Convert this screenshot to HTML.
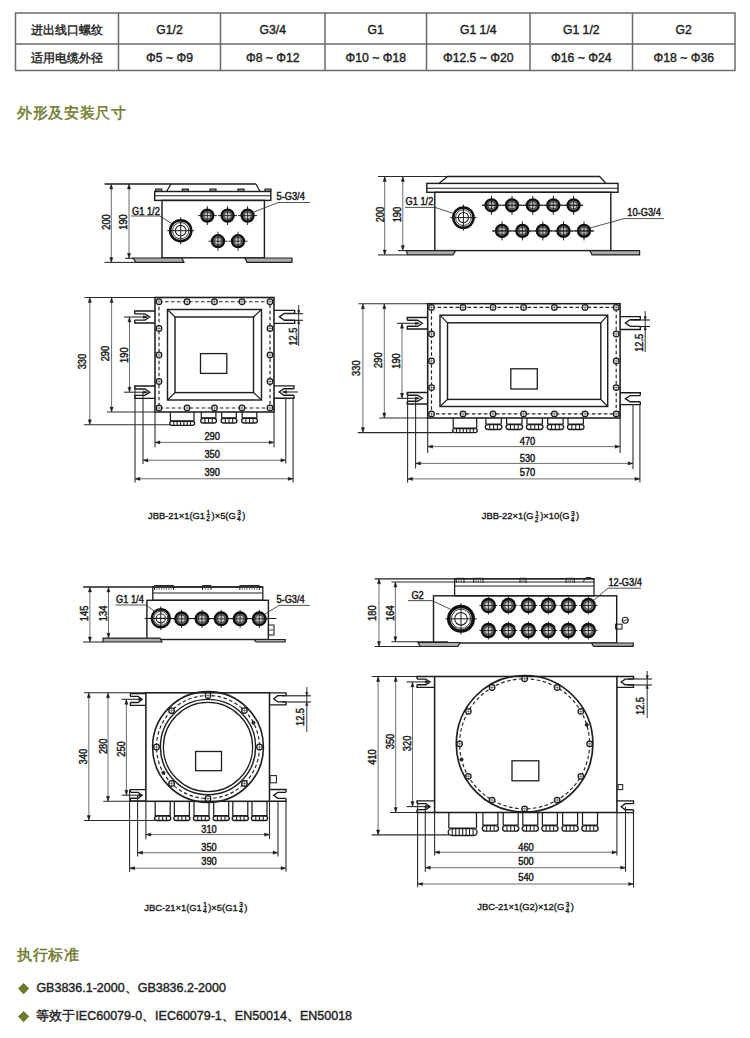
<!DOCTYPE html>
<html><head><meta charset="utf-8"><style>
html,body{margin:0;padding:0;background:#fff;width:750px;height:1038px;overflow:hidden;font-family:"Liberation Sans",sans-serif;}
svg{display:block;}
</style></head><body>
<svg width="750" height="1038" viewBox="0 0 750 1038" stroke-linecap="butt">
<rect x="15.5" y="13" width="719.5" height="57.5" fill="none" stroke="#6a6a6a" stroke-width="1.5"/>
<line x1="15.5" y1="44" x2="735" y2="44" stroke="#6a6a6a" stroke-width="1.5"/>
<line x1="118.5" y1="13" x2="118.5" y2="70.5" stroke="#6a6a6a" stroke-width="1.5"/>
<line x1="220.5" y1="13" x2="220.5" y2="70.5" stroke="#6a6a6a" stroke-width="1.5"/>
<line x1="325" y1="13" x2="325" y2="70.5" stroke="#6a6a6a" stroke-width="1.5"/>
<line x1="426.5" y1="13" x2="426.5" y2="70.5" stroke="#6a6a6a" stroke-width="1.5"/>
<line x1="530" y1="13" x2="530" y2="70.5" stroke="#6a6a6a" stroke-width="1.5"/>
<line x1="632.5" y1="13" x2="632.5" y2="70.5" stroke="#6a6a6a" stroke-width="1.5"/>
<text x="67" y="33.6" font-size="12.4" text-anchor="middle" fill="#222" stroke="#222" stroke-width="0.4" font-family="Liberation Sans">进出线口螺纹</text>
<text x="67" y="61.6" font-size="12.4" text-anchor="middle" fill="#222" stroke="#222" stroke-width="0.4" font-family="Liberation Sans">适用电缆外径</text>
<text x="169.5" y="33.6" font-size="12.2" text-anchor="middle" fill="#222" stroke="#222" stroke-width="0.4" font-family="Liberation Sans">G1/2</text>
<text x="169.5" y="61.6" font-size="12.2" text-anchor="middle" fill="#222" stroke="#222" stroke-width="0.4" font-family="Liberation Sans">Φ5 ~ Φ9</text>
<text x="272.75" y="33.6" font-size="12.2" text-anchor="middle" fill="#222" stroke="#222" stroke-width="0.4" font-family="Liberation Sans">G3/4</text>
<text x="272.75" y="61.6" font-size="12.2" text-anchor="middle" fill="#222" stroke="#222" stroke-width="0.4" font-family="Liberation Sans">Φ8 ~ Φ12</text>
<text x="375.75" y="33.6" font-size="12.2" text-anchor="middle" fill="#222" stroke="#222" stroke-width="0.4" font-family="Liberation Sans">G1</text>
<text x="375.75" y="61.6" font-size="12.2" text-anchor="middle" fill="#222" stroke="#222" stroke-width="0.4" font-family="Liberation Sans">Φ10 ~ Φ18</text>
<text x="478.25" y="33.6" font-size="12.2" text-anchor="middle" fill="#222" stroke="#222" stroke-width="0.4" font-family="Liberation Sans">G1 1/4</text>
<text x="478.25" y="61.6" font-size="12.2" text-anchor="middle" fill="#222" stroke="#222" stroke-width="0.4" font-family="Liberation Sans">Φ12.5 ~ Φ20</text>
<text x="581.25" y="33.6" font-size="12.2" text-anchor="middle" fill="#222" stroke="#222" stroke-width="0.4" font-family="Liberation Sans">G1 1/2</text>
<text x="581.25" y="61.6" font-size="12.2" text-anchor="middle" fill="#222" stroke="#222" stroke-width="0.4" font-family="Liberation Sans">Φ16 ~ Φ24</text>
<text x="683.75" y="33.6" font-size="12.2" text-anchor="middle" fill="#222" stroke="#222" stroke-width="0.4" font-family="Liberation Sans">G2</text>
<text x="683.75" y="61.6" font-size="12.2" text-anchor="middle" fill="#222" stroke="#222" stroke-width="0.4" font-family="Liberation Sans">Φ18 ~ Φ36</text>

<text x="17" y="118.3" font-size="15" letter-spacing="0.65" fill="#6f7a2c" stroke="#6f7a2c" stroke-width="0.45" font-family="Liberation Sans">外形及安装尺寸</text>
<text x="17" y="960.2" font-size="15" letter-spacing="0.65" fill="#6f7a2c" stroke="#6f7a2c" stroke-width="0.45" font-family="Liberation Sans">执行标准</text>
<path d="M23.6,983 L29.2,988.6 L23.6,994.2 L18,988.6 Z" fill="#6f7a2c"/>
<path d="M23.6,1011 L29.2,1016.6 L23.6,1022.2 L18,1016.6 Z" fill="#6f7a2c"/>
<text x="36.4" y="992" font-size="12.5" fill="#222" stroke="#222" stroke-width="0.4" font-family="Liberation Sans">GB3836.1-2000、GB3836.2-2000</text>
<text x="36.4" y="1020" font-size="12.5" fill="#222" stroke="#222" stroke-width="0.4" font-family="Liberation Sans">等效于IEC60079-0、IEC60079-1、EN50014、EN50018</text>

<line x1="104.5" y1="184" x2="256" y2="184" stroke="#1e1e1e" stroke-width="1.3"/>
<path d="M256,184 L260,191.5" stroke="#1e1e1e" stroke-width="1.3" fill="none"/>
<path d="M171,184 L166.5,191.5" stroke="#1e1e1e" stroke-width="1.3" fill="none"/>
<path d="M155.7,191.5 V189 H161.7 V191.5" stroke="#1e1e1e" stroke-width="1.17" fill="#888"/>
<path d="M182.3,191.5 V189 H188.3 V191.5" stroke="#1e1e1e" stroke-width="1.17" fill="#888"/>
<path d="M210,191.5 V189 H216 V191.5" stroke="#1e1e1e" stroke-width="1.17" fill="#888"/>
<path d="M238,191.5 V189 H244 V191.5" stroke="#1e1e1e" stroke-width="1.17" fill="#888"/>
<path d="M265,191.5 V189 H271 V191.5" stroke="#1e1e1e" stroke-width="1.17" fill="#888"/>
<rect x="154.7" y="191.5" width="116.1" height="8.9" stroke="#1e1e1e" stroke-width="1.43" fill="none"/>
<line x1="154.7" y1="195.8" x2="270.8" y2="195.8" stroke="#1e1e1e" stroke-width="1.04"/>
<rect x="162" y="200.4" width="102.4" height="57.4" stroke="#1e1e1e" stroke-width="1.43" fill="none"/>
<path d="M133,258 L182,258 L184,262.4 L136,262.4 Z" stroke="#1e1e1e" stroke-width="1.17" fill="#acacac"/>
<path d="M245,258 L292,258 L292,262.4 L247,262.4 Z" stroke="#1e1e1e" stroke-width="1.17" fill="#acacac"/>
<line x1="104.5" y1="262.4" x2="136" y2="262.4" stroke="#2a2a2a" stroke-width="1.08"/>
<line x1="125" y1="258.3" x2="133" y2="258.3" stroke="#2a2a2a" stroke-width="1.08"/>
<line x1="111.3" y1="184" x2="111.3" y2="262.4" stroke="#555" stroke-width="0.85"/>
<path d="M111.3,184 L109.7,189 L112.9,189 Z" stroke="#1e1e1e" stroke-width="0.39" fill="#1e1e1e"/>
<path d="M111.3,262.4 L109.7,257.4 L112.9,257.4 Z" stroke="#1e1e1e" stroke-width="0.39" fill="#1e1e1e"/>
<line x1="129" y1="184" x2="129" y2="258.3" stroke="#555" stroke-width="0.85"/>
<path d="M129,184 L127.4,189 L130.6,189 Z" stroke="#1e1e1e" stroke-width="0.39" fill="#1e1e1e"/>
<path d="M129,258.3 L127.4,253.3 L130.6,253.3 Z" stroke="#1e1e1e" stroke-width="0.39" fill="#1e1e1e"/>
<text x="0" y="0" transform="translate(106.5,222) rotate(-90) scale(0.92,1)" font-size="10.1" text-anchor="middle" dominant-baseline="central" fill="#1a1a1a" stroke="#1a1a1a" stroke-width="0.45" font-family="Liberation Sans" font-weight="normal">200</text>
<text x="0" y="0" transform="translate(123.5,222) rotate(-90) scale(0.92,1)" font-size="10.1" text-anchor="middle" dominant-baseline="central" fill="#1a1a1a" stroke="#1a1a1a" stroke-width="0.45" font-family="Liberation Sans" font-weight="normal">190</text>
<path d="M167.3,230.7 H194.1 M180.7,217.3 V244.1" stroke="#1a1a1a" stroke-width="1.0"/>
<circle cx="180.7" cy="230.7" r="10.55" stroke="#111" stroke-width="2.5" fill="none"/>
<circle cx="180.7" cy="230.7" r="8.14" stroke="#222" stroke-width="0.9" fill="none"/>
<circle cx="180.7" cy="230.7" r="5.31" stroke="#222" stroke-width="1.1" fill="none"/>
<text x="0" y="0" transform="translate(132,214.6) scale(0.92,1)" font-size="10.1" text-anchor="start" fill="#1a1a1a" stroke="#1a1a1a" stroke-width="0.45" font-family="Liberation Sans" font-weight="normal">G1 1/2</text>
<path d="M131,216 L160,216 L174,225" stroke="#2a2a2a" stroke-width="0.81" fill="none"/>
<path d="M197.8,215.6 H216.8 M207.3,206.1 V225.1" stroke="#1a1a1a" stroke-width="0.95"/>
<circle cx="207.3" cy="215.6" r="6" stroke="#0e0e0e" stroke-width="2.3" fill="#6e6e6e"/>
<circle cx="207.3" cy="215.6" r="3.64" stroke="#333" stroke-width="0.8" fill="#c8c8c8"/>
<path d="M202.26,215.6 H212.34 M207.3,210.56 V220.64" stroke="#222" stroke-width="0.9"/>
<path d="M218.1,215.6 H237.1 M227.6,206.1 V225.1" stroke="#1a1a1a" stroke-width="0.95"/>
<circle cx="227.6" cy="215.6" r="6" stroke="#0e0e0e" stroke-width="2.3" fill="#6e6e6e"/>
<circle cx="227.6" cy="215.6" r="3.64" stroke="#333" stroke-width="0.8" fill="#c8c8c8"/>
<path d="M222.56,215.6 H232.64 M227.6,210.56 V220.64" stroke="#222" stroke-width="0.9"/>
<path d="M238.1,215.6 H257.1 M247.6,206.1 V225.1" stroke="#1a1a1a" stroke-width="0.95"/>
<circle cx="247.6" cy="215.6" r="6" stroke="#0e0e0e" stroke-width="2.3" fill="#6e6e6e"/>
<circle cx="247.6" cy="215.6" r="3.64" stroke="#333" stroke-width="0.8" fill="#c8c8c8"/>
<path d="M242.56,215.6 H252.64 M247.6,210.56 V220.64" stroke="#222" stroke-width="0.9"/>
<path d="M208.5,241.2 H227.5 M218,231.7 V250.7" stroke="#1a1a1a" stroke-width="0.95"/>
<circle cx="218" cy="241.2" r="6" stroke="#0e0e0e" stroke-width="2.3" fill="#6e6e6e"/>
<circle cx="218" cy="241.2" r="3.64" stroke="#333" stroke-width="0.8" fill="#c8c8c8"/>
<path d="M212.96,241.2 H223.04 M218,236.16 V246.24" stroke="#222" stroke-width="0.9"/>
<path d="M228.5,241.2 H247.5 M238,231.7 V250.7" stroke="#1a1a1a" stroke-width="0.95"/>
<circle cx="238" cy="241.2" r="6" stroke="#0e0e0e" stroke-width="2.3" fill="#6e6e6e"/>
<circle cx="238" cy="241.2" r="3.64" stroke="#333" stroke-width="0.8" fill="#c8c8c8"/>
<path d="M232.96,241.2 H243.04 M238,236.16 V246.24" stroke="#222" stroke-width="0.9"/>
<text x="0" y="0" transform="translate(276.5,200.4) scale(0.92,1)" font-size="10.1" text-anchor="start" fill="#1a1a1a" stroke="#1a1a1a" stroke-width="0.45" font-family="Liberation Sans" font-weight="normal">5-G3/4</text>
<path d="M254,212 L278,202.5 L310,202.5" stroke="#2a2a2a" stroke-width="0.81" fill="none"/>
<line x1="84.4" y1="297.5" x2="155" y2="297.5" stroke="#2a2a2a" stroke-width="1.08"/>
<line x1="107" y1="412" x2="155" y2="412" stroke="#2a2a2a" stroke-width="1.08"/>
<line x1="84" y1="424.7" x2="171" y2="424.7" stroke="#2a2a2a" stroke-width="1.08"/>
<rect x="155" y="297.5" width="119" height="114.5" stroke="#1e1e1e" stroke-width="1.56" fill="none"/>
<rect x="159" y="301.7" width="111" height="106.3" fill="none" stroke="#222" stroke-width="1.15" stroke-dasharray="3.6,2.4"/>
<rect x="167.5" y="309.5" width="94" height="90.5" stroke="#1e1e1e" stroke-width="1.43" fill="none"/>
<rect x="175" y="317" width="78.5" height="75.6" stroke="#1e1e1e" stroke-width="1.43" fill="none"/>
<line x1="167.5" y1="309.5" x2="175" y2="317" stroke="#1e1e1e" stroke-width="1.17"/>
<line x1="261.5" y1="309.5" x2="253.5" y2="317" stroke="#1e1e1e" stroke-width="1.17"/>
<line x1="167.5" y1="400" x2="175" y2="392.6" stroke="#1e1e1e" stroke-width="1.17"/>
<line x1="261.5" y1="400" x2="253.5" y2="392.6" stroke="#1e1e1e" stroke-width="1.17"/>
<rect x="200.5" y="353.6" width="26.3" height="19.8" stroke="#1e1e1e" stroke-width="1.3" fill="none"/>
<circle cx="159" cy="301.7" r="2.8" stroke="#1a1a1a" stroke-width="1.25" fill="#fff"/>
<path d="M156.2,301.7 H161.8 M159,298.9 V304.5" stroke="#333" stroke-width="0.55"/>
<circle cx="159" cy="408" r="2.8" stroke="#1a1a1a" stroke-width="1.25" fill="#fff"/>
<path d="M156.2,408 H161.8 M159,405.2 V410.8" stroke="#333" stroke-width="0.55"/>
<circle cx="187" cy="301.7" r="2.8" stroke="#1a1a1a" stroke-width="1.25" fill="#fff"/>
<path d="M184.2,301.7 H189.8 M187,298.9 V304.5" stroke="#333" stroke-width="0.55"/>
<circle cx="187" cy="408" r="2.8" stroke="#1a1a1a" stroke-width="1.25" fill="#fff"/>
<path d="M184.2,408 H189.8 M187,405.2 V410.8" stroke="#333" stroke-width="0.55"/>
<circle cx="214.5" cy="301.7" r="2.8" stroke="#1a1a1a" stroke-width="1.25" fill="#fff"/>
<path d="M211.7,301.7 H217.3 M214.5,298.9 V304.5" stroke="#333" stroke-width="0.55"/>
<circle cx="214.5" cy="408" r="2.8" stroke="#1a1a1a" stroke-width="1.25" fill="#fff"/>
<path d="M211.7,408 H217.3 M214.5,405.2 V410.8" stroke="#333" stroke-width="0.55"/>
<circle cx="242" cy="301.7" r="2.8" stroke="#1a1a1a" stroke-width="1.25" fill="#fff"/>
<path d="M239.2,301.7 H244.8 M242,298.9 V304.5" stroke="#333" stroke-width="0.55"/>
<circle cx="242" cy="408" r="2.8" stroke="#1a1a1a" stroke-width="1.25" fill="#fff"/>
<path d="M239.2,408 H244.8 M242,405.2 V410.8" stroke="#333" stroke-width="0.55"/>
<circle cx="270" cy="301.7" r="2.8" stroke="#1a1a1a" stroke-width="1.25" fill="#fff"/>
<path d="M267.2,301.7 H272.8 M270,298.9 V304.5" stroke="#333" stroke-width="0.55"/>
<circle cx="270" cy="408" r="2.8" stroke="#1a1a1a" stroke-width="1.25" fill="#fff"/>
<path d="M267.2,408 H272.8 M270,405.2 V410.8" stroke="#333" stroke-width="0.55"/>
<circle cx="159" cy="328.5" r="2.8" stroke="#1a1a1a" stroke-width="1.25" fill="#fff"/>
<path d="M156.2,328.5 H161.8 M159,325.7 V331.3" stroke="#333" stroke-width="0.55"/>
<circle cx="270" cy="328.5" r="2.8" stroke="#1a1a1a" stroke-width="1.25" fill="#fff"/>
<path d="M267.2,328.5 H272.8 M270,325.7 V331.3" stroke="#333" stroke-width="0.55"/>
<circle cx="159" cy="355" r="2.8" stroke="#1a1a1a" stroke-width="1.25" fill="#fff"/>
<path d="M156.2,355 H161.8 M159,352.2 V357.8" stroke="#333" stroke-width="0.55"/>
<circle cx="270" cy="355" r="2.8" stroke="#1a1a1a" stroke-width="1.25" fill="#fff"/>
<path d="M267.2,355 H272.8 M270,352.2 V357.8" stroke="#333" stroke-width="0.55"/>
<circle cx="159" cy="381.5" r="2.8" stroke="#1a1a1a" stroke-width="1.25" fill="#fff"/>
<path d="M156.2,381.5 H161.8 M159,378.7 V384.3" stroke="#333" stroke-width="0.55"/>
<circle cx="270" cy="381.5" r="2.8" stroke="#1a1a1a" stroke-width="1.25" fill="#fff"/>
<path d="M267.2,381.5 H272.8 M270,378.7 V384.3" stroke="#333" stroke-width="0.55"/>
<path d="M155,311 H134.7 V313.88 M155,323 H134.7 V320.12" stroke="#1a1a1a" stroke-width="1.35" fill="none"/>
<path d="M134.7,313.88 H144.85 L149.72,317 L144.85,320.12 H134.7" stroke="#1a1a1a" stroke-width="1.35" fill="none"/>
<path d="M155,386 H134.7 V388.95 M155,398.3 H134.7 V395.35" stroke="#1a1a1a" stroke-width="1.35" fill="none"/>
<path d="M134.7,388.95 H144.85 L149.72,392.15 L144.85,395.35 H134.7" stroke="#1a1a1a" stroke-width="1.35" fill="none"/>
<path d="M274,310.3 H294.7 V313.44 M274,323.4 H294.7 V320.26" stroke="#1a1a1a" stroke-width="1.35" fill="none"/>
<path d="M294.7,313.44 H284.35 L279.38,316.85 L284.35,320.26 H294.7" stroke="#1a1a1a" stroke-width="1.35" fill="none"/>
<path d="M274,385.8 H294 V388.78 M274,398.2 H294 V395.22" stroke="#1a1a1a" stroke-width="1.35" fill="none"/>
<path d="M294,388.78 H284 L279.2,392 L284,395.22 H294" stroke="#1a1a1a" stroke-width="1.35" fill="none"/>
<line x1="124" y1="317" x2="147" y2="317" stroke="#2a2a2a" stroke-width="1.08"/>
<path d="M147.5,317 L143.3,315.6 L143.3,318.4 Z" stroke="#1e1e1e" stroke-width="0.39" fill="#1e1e1e"/>
<line x1="124" y1="392.2" x2="147" y2="392.2" stroke="#2a2a2a" stroke-width="1.08"/>
<path d="M147.5,392.2 L143.3,390.8 L143.3,393.6 Z" stroke="#1e1e1e" stroke-width="0.39" fill="#1e1e1e"/>
<line x1="283" y1="392" x2="298" y2="392" stroke="#2a2a2a" stroke-width="1.08"/>
<path d="M282.5,392 L286.7,390.6 L286.7,393.4 Z" stroke="#1e1e1e" stroke-width="0.39" fill="#1e1e1e"/>
<line x1="89.8" y1="297.5" x2="89.8" y2="424.7" stroke="#555" stroke-width="0.85"/>
<path d="M89.8,297.5 L88.2,302.5 L91.4,302.5 Z" stroke="#1e1e1e" stroke-width="0.39" fill="#1e1e1e"/>
<path d="M89.8,424.7 L88.2,419.7 L91.4,419.7 Z" stroke="#1e1e1e" stroke-width="0.39" fill="#1e1e1e"/>
<line x1="111.6" y1="297.5" x2="111.6" y2="412" stroke="#555" stroke-width="0.85"/>
<path d="M111.6,297.5 L110,302.5 L113.2,302.5 Z" stroke="#1e1e1e" stroke-width="0.39" fill="#1e1e1e"/>
<path d="M111.6,412 L110,407 L113.2,407 Z" stroke="#1e1e1e" stroke-width="0.39" fill="#1e1e1e"/>
<line x1="129.5" y1="317" x2="129.5" y2="392.2" stroke="#555" stroke-width="0.85"/>
<path d="M129.5,317 L127.9,322 L131.1,322 Z" stroke="#1e1e1e" stroke-width="0.39" fill="#1e1e1e"/>
<path d="M129.5,392.2 L127.9,387.2 L131.1,387.2 Z" stroke="#1e1e1e" stroke-width="0.39" fill="#1e1e1e"/>
<text x="0" y="0" transform="translate(82.8,361.6) rotate(-90) scale(0.92,1)" font-size="10.1" text-anchor="middle" dominant-baseline="central" fill="#1a1a1a" stroke="#1a1a1a" stroke-width="0.45" font-family="Liberation Sans" font-weight="normal">330</text>
<text x="0" y="0" transform="translate(105.8,353.6) rotate(-90) scale(0.92,1)" font-size="10.1" text-anchor="middle" dominant-baseline="central" fill="#1a1a1a" stroke="#1a1a1a" stroke-width="0.45" font-family="Liberation Sans" font-weight="normal">290</text>
<text x="0" y="0" transform="translate(124.4,355.2) rotate(-90) scale(0.92,1)" font-size="10.1" text-anchor="middle" dominant-baseline="central" fill="#1a1a1a" stroke="#1a1a1a" stroke-width="0.45" font-family="Liberation Sans" font-weight="normal">190</text>
<line x1="285" y1="313.7" x2="303" y2="313.7" stroke="#1e1e1e" stroke-width="1.1"/>
<line x1="285" y1="320.3" x2="303" y2="320.3" stroke="#1e1e1e" stroke-width="1.1"/>
<line x1="298.7" y1="305" x2="298.7" y2="346" stroke="#2a2a2a" stroke-width="0.94"/>
<path d="M298.7,313.7 L297.5,310.2 L299.9,310.2 Z" stroke="#1e1e1e" stroke-width="0.39" fill="#1e1e1e"/>
<path d="M298.7,320.3 L297.5,323.8 L299.9,323.8 Z" stroke="#1e1e1e" stroke-width="0.39" fill="#1e1e1e"/>
<text x="0" y="0" transform="translate(293.5,336.6) rotate(-90) scale(0.92,1)" font-size="10.1" text-anchor="middle" dominant-baseline="central" fill="#1a1a1a" stroke="#1a1a1a" stroke-width="0.45" font-family="Liberation Sans" font-weight="normal">12.5</text>
<path d="M170.4,412 V420.8 H194 V412" stroke="#1e1e1e" stroke-width="1.23" fill="none"/>
<rect x="169.8" y="421.4" width="24.8" height="3.9" rx="2.25" stroke="#1a1a1a" stroke-width="1.3" fill="#fff"/>
<line x1="173.77" y1="421.6" x2="173.77" y2="425.1" stroke="#222" stroke-width="1.1"/>
<line x1="177.14" y1="421.6" x2="177.14" y2="425.1" stroke="#222" stroke-width="1.1"/>
<line x1="180.51" y1="421.6" x2="180.51" y2="425.1" stroke="#222" stroke-width="1.1"/>
<line x1="183.89" y1="421.6" x2="183.89" y2="425.1" stroke="#222" stroke-width="1.1"/>
<line x1="187.26" y1="421.6" x2="187.26" y2="425.1" stroke="#222" stroke-width="1.1"/>
<line x1="190.63" y1="421.6" x2="190.63" y2="425.1" stroke="#222" stroke-width="1.1"/>
<path d="M201.3,412 V417.8 H215.9 V412" stroke="#1e1e1e" stroke-width="1.23" fill="none"/>
<rect x="200.7" y="418.4" width="15.8" height="4.6" rx="2.6" stroke="#1a1a1a" stroke-width="1.3" fill="#fff"/>
<line x1="204.95" y1="418.6" x2="204.95" y2="422.8" stroke="#222" stroke-width="1.1"/>
<line x1="208.6" y1="418.6" x2="208.6" y2="422.8" stroke="#222" stroke-width="1.1"/>
<line x1="212.25" y1="418.6" x2="212.25" y2="422.8" stroke="#222" stroke-width="1.1"/>
<path d="M221.7,412 V417.8 H236.3 V412" stroke="#1e1e1e" stroke-width="1.23" fill="none"/>
<rect x="221.1" y="418.4" width="15.8" height="4.6" rx="2.6" stroke="#1a1a1a" stroke-width="1.3" fill="#fff"/>
<line x1="225.35" y1="418.6" x2="225.35" y2="422.8" stroke="#222" stroke-width="1.1"/>
<line x1="229" y1="418.6" x2="229" y2="422.8" stroke="#222" stroke-width="1.1"/>
<line x1="232.65" y1="418.6" x2="232.65" y2="422.8" stroke="#222" stroke-width="1.1"/>
<path d="M242.2,412 V417.8 H256.8 V412" stroke="#1e1e1e" stroke-width="1.23" fill="none"/>
<rect x="241.6" y="418.4" width="15.8" height="4.6" rx="2.6" stroke="#1a1a1a" stroke-width="1.3" fill="#fff"/>
<line x1="245.85" y1="418.6" x2="245.85" y2="422.8" stroke="#222" stroke-width="1.1"/>
<line x1="249.5" y1="418.6" x2="249.5" y2="422.8" stroke="#222" stroke-width="1.1"/>
<line x1="253.15" y1="418.6" x2="253.15" y2="422.8" stroke="#222" stroke-width="1.1"/>
<line x1="155" y1="412" x2="155" y2="447.3" stroke="#2a2a2a" stroke-width="1.08"/>
<line x1="274" y1="398" x2="274" y2="447.3" stroke="#2a2a2a" stroke-width="1.08"/>
<line x1="143" y1="392" x2="143" y2="464" stroke="#2a2a2a" stroke-width="1.08"/>
<line x1="285.8" y1="398" x2="285.8" y2="463.5" stroke="#2a2a2a" stroke-width="1.08"/>
<line x1="135" y1="386" x2="135" y2="482.5" stroke="#2a2a2a" stroke-width="1.08"/>
<line x1="293.1" y1="398" x2="293.1" y2="482.5" stroke="#2a2a2a" stroke-width="1.08"/>
<line x1="155" y1="442.4" x2="274" y2="442.4" stroke="#555" stroke-width="0.85"/>
<path d="M155,442.4 L160,440.8 L160,444 Z" stroke="#1e1e1e" stroke-width="0.39" fill="#1e1e1e"/>
<path d="M274,442.4 L269,440.8 L269,444 Z" stroke="#1e1e1e" stroke-width="0.39" fill="#1e1e1e"/>
<line x1="143" y1="460.3" x2="285.8" y2="460.3" stroke="#555" stroke-width="0.85"/>
<path d="M143,460.3 L148,458.7 L148,461.9 Z" stroke="#1e1e1e" stroke-width="0.39" fill="#1e1e1e"/>
<path d="M285.8,460.3 L280.8,458.7 L280.8,461.9 Z" stroke="#1e1e1e" stroke-width="0.39" fill="#1e1e1e"/>
<line x1="135" y1="478.8" x2="293.1" y2="478.8" stroke="#555" stroke-width="0.85"/>
<path d="M135,478.8 L140,477.2 L140,480.4 Z" stroke="#1e1e1e" stroke-width="0.39" fill="#1e1e1e"/>
<path d="M293.1,478.8 L288.1,477.2 L288.1,480.4 Z" stroke="#1e1e1e" stroke-width="0.39" fill="#1e1e1e"/>
<text x="0" y="0" transform="translate(212.2,439.7) scale(0.92,1)" font-size="10.1" text-anchor="middle" fill="#1a1a1a" stroke="#1a1a1a" stroke-width="0.45" font-family="Liberation Sans" font-weight="normal">290</text>
<text x="0" y="0" transform="translate(212.2,458) scale(0.92,1)" font-size="10.1" text-anchor="middle" fill="#1a1a1a" stroke="#1a1a1a" stroke-width="0.45" font-family="Liberation Sans" font-weight="normal">350</text>
<text x="0" y="0" transform="translate(212.2,476.3) scale(0.92,1)" font-size="10.1" text-anchor="middle" fill="#1a1a1a" stroke="#1a1a1a" stroke-width="0.45" font-family="Liberation Sans" font-weight="normal">390</text>
<text x="148" y="518.6" font-size="9.4" fill="#1a1a1a" stroke="#1a1a1a" stroke-width="0.35" font-family="Liberation Sans"><tspan>JBB-21×1(G1</tspan><tspan font-size="6.6" dy="-3.4" dx="1.5">1</tspan><tspan font-size="6.6" dx="-3.97" dy="6.0">2</tspan><tspan dy="-2.6" dx="1.6">)×5(G</tspan><tspan font-size="6.6" dy="-3.4" dx="1.5">3</tspan><tspan font-size="6.6" dx="-3.97" dy="6.0">4</tspan><tspan dy="-2.6" dx="1.6">)</tspan></text>
<line x1="378" y1="176.5" x2="447.6" y2="176.5" stroke="#2a2a2a" stroke-width="1.08"/>
<path d="M438.8,183.4 L447.6,176.5 L599.6,176.5 L606,183.4" stroke="#1e1e1e" stroke-width="1.3" fill="none"/>
<rect x="426.8" y="183.4" width="191.2" height="8.9" stroke="#1e1e1e" stroke-width="1.43" fill="none"/>
<line x1="426.8" y1="188.2" x2="618" y2="188.2" stroke="#1e1e1e" stroke-width="1.04"/>
<rect x="434.8" y="192.3" width="176" height="58.3" stroke="#1e1e1e" stroke-width="1.43" fill="none"/>
<path d="M406,250.6 L455.6,250.6 L453,254.9 L408,254.9 Z" stroke="#1e1e1e" stroke-width="1.17" fill="#acacac"/>
<path d="M590,250.6 L639.6,250.6 L639.6,254.9 L592,254.9 Z" stroke="#1e1e1e" stroke-width="1.17" fill="#acacac"/>
<line x1="378" y1="254.9" x2="408" y2="254.9" stroke="#2a2a2a" stroke-width="1.08"/>
<line x1="398" y1="250.6" x2="406" y2="250.6" stroke="#2a2a2a" stroke-width="1.08"/>
<line x1="384.7" y1="176.5" x2="384.7" y2="254.9" stroke="#555" stroke-width="0.85"/>
<path d="M384.7,176.5 L383.1,181.5 L386.3,181.5 Z" stroke="#1e1e1e" stroke-width="0.39" fill="#1e1e1e"/>
<path d="M384.7,254.9 L383.1,249.9 L386.3,249.9 Z" stroke="#1e1e1e" stroke-width="0.39" fill="#1e1e1e"/>
<line x1="402.8" y1="176.5" x2="402.8" y2="250.6" stroke="#555" stroke-width="0.85"/>
<path d="M402.8,176.5 L401.2,181.5 L404.4,181.5 Z" stroke="#1e1e1e" stroke-width="0.39" fill="#1e1e1e"/>
<path d="M402.8,250.6 L401.2,245.6 L404.4,245.6 Z" stroke="#1e1e1e" stroke-width="0.39" fill="#1e1e1e"/>
<text x="0" y="0" transform="translate(380.4,214.6) rotate(-90) scale(0.92,1)" font-size="10.1" text-anchor="middle" dominant-baseline="central" fill="#1a1a1a" stroke="#1a1a1a" stroke-width="0.45" font-family="Liberation Sans" font-weight="normal">200</text>
<text x="0" y="0" transform="translate(397.4,214.6) rotate(-90) scale(0.92,1)" font-size="10.1" text-anchor="middle" dominant-baseline="central" fill="#1a1a1a" stroke="#1a1a1a" stroke-width="0.45" font-family="Liberation Sans" font-weight="normal">190</text>
<path d="M450.4,217.6 H476.4 M463.4,204.6 V230.6" stroke="#1a1a1a" stroke-width="1.0"/>
<circle cx="463.4" cy="217.6" r="10.15" stroke="#111" stroke-width="2.5" fill="none"/>
<circle cx="463.4" cy="217.6" r="7.87" stroke="#222" stroke-width="0.9" fill="none"/>
<circle cx="463.4" cy="217.6" r="5.13" stroke="#222" stroke-width="1.1" fill="none"/>
<text x="0" y="0" transform="translate(405.5,205) scale(0.92,1)" font-size="10.1" text-anchor="start" fill="#1a1a1a" stroke="#1a1a1a" stroke-width="0.45" font-family="Liberation Sans" font-weight="normal">G1 1/2</text>
<path d="M405,207.4 L435,207.4 L455,214" stroke="#2a2a2a" stroke-width="0.81" fill="none"/>
<path d="M482,205.3 H501 M491.5,195.8 V214.8" stroke="#1a1a1a" stroke-width="0.95"/>
<circle cx="491.5" cy="205.3" r="6" stroke="#0e0e0e" stroke-width="2.3" fill="#6e6e6e"/>
<circle cx="491.5" cy="205.3" r="3.64" stroke="#333" stroke-width="0.8" fill="#c8c8c8"/>
<path d="M486.46,205.3 H496.54 M491.5,200.26 V210.34" stroke="#222" stroke-width="0.9"/>
<path d="M502.5,205.3 H521.5 M512,195.8 V214.8" stroke="#1a1a1a" stroke-width="0.95"/>
<circle cx="512" cy="205.3" r="6" stroke="#0e0e0e" stroke-width="2.3" fill="#6e6e6e"/>
<circle cx="512" cy="205.3" r="3.64" stroke="#333" stroke-width="0.8" fill="#c8c8c8"/>
<path d="M506.96,205.3 H517.04 M512,200.26 V210.34" stroke="#222" stroke-width="0.9"/>
<path d="M523.3,205.3 H542.3 M532.8,195.8 V214.8" stroke="#1a1a1a" stroke-width="0.95"/>
<circle cx="532.8" cy="205.3" r="6" stroke="#0e0e0e" stroke-width="2.3" fill="#6e6e6e"/>
<circle cx="532.8" cy="205.3" r="3.64" stroke="#333" stroke-width="0.8" fill="#c8c8c8"/>
<path d="M527.76,205.3 H537.84 M532.8,200.26 V210.34" stroke="#222" stroke-width="0.9"/>
<path d="M543.8,205.3 H562.8 M553.3,195.8 V214.8" stroke="#1a1a1a" stroke-width="0.95"/>
<circle cx="553.3" cy="205.3" r="6" stroke="#0e0e0e" stroke-width="2.3" fill="#6e6e6e"/>
<circle cx="553.3" cy="205.3" r="3.64" stroke="#333" stroke-width="0.8" fill="#c8c8c8"/>
<path d="M548.26,205.3 H558.34 M553.3,200.26 V210.34" stroke="#222" stroke-width="0.9"/>
<path d="M564.1,205.3 H583.1 M573.6,195.8 V214.8" stroke="#1a1a1a" stroke-width="0.95"/>
<circle cx="573.6" cy="205.3" r="6" stroke="#0e0e0e" stroke-width="2.3" fill="#6e6e6e"/>
<circle cx="573.6" cy="205.3" r="3.64" stroke="#333" stroke-width="0.8" fill="#c8c8c8"/>
<path d="M568.56,205.3 H578.64 M573.6,200.26 V210.34" stroke="#222" stroke-width="0.9"/>
<line x1="482" y1="205.3" x2="583" y2="205.3" stroke="#1e1e1e" stroke-width="1.04"/>
<path d="M492.5,230.9 H511.5 M502,221.4 V240.4" stroke="#1a1a1a" stroke-width="0.95"/>
<circle cx="502" cy="230.9" r="6" stroke="#0e0e0e" stroke-width="2.3" fill="#6e6e6e"/>
<circle cx="502" cy="230.9" r="3.64" stroke="#333" stroke-width="0.8" fill="#c8c8c8"/>
<path d="M496.96,230.9 H507.04 M502,225.86 V235.94" stroke="#222" stroke-width="0.9"/>
<path d="M512.9,230.9 H531.9 M522.4,221.4 V240.4" stroke="#1a1a1a" stroke-width="0.95"/>
<circle cx="522.4" cy="230.9" r="6" stroke="#0e0e0e" stroke-width="2.3" fill="#6e6e6e"/>
<circle cx="522.4" cy="230.9" r="3.64" stroke="#333" stroke-width="0.8" fill="#c8c8c8"/>
<path d="M517.36,230.9 H527.44 M522.4,225.86 V235.94" stroke="#222" stroke-width="0.9"/>
<path d="M533.4,230.9 H552.4 M542.9,221.4 V240.4" stroke="#1a1a1a" stroke-width="0.95"/>
<circle cx="542.9" cy="230.9" r="6" stroke="#0e0e0e" stroke-width="2.3" fill="#6e6e6e"/>
<circle cx="542.9" cy="230.9" r="3.64" stroke="#333" stroke-width="0.8" fill="#c8c8c8"/>
<path d="M537.86,230.9 H547.94 M542.9,225.86 V235.94" stroke="#222" stroke-width="0.9"/>
<path d="M554,230.9 H573 M563.5,221.4 V240.4" stroke="#1a1a1a" stroke-width="0.95"/>
<circle cx="563.5" cy="230.9" r="6" stroke="#0e0e0e" stroke-width="2.3" fill="#6e6e6e"/>
<circle cx="563.5" cy="230.9" r="3.64" stroke="#333" stroke-width="0.8" fill="#c8c8c8"/>
<path d="M558.46,230.9 H568.54 M563.5,225.86 V235.94" stroke="#222" stroke-width="0.9"/>
<path d="M574.5,230.9 H593.5 M584,221.4 V240.4" stroke="#1a1a1a" stroke-width="0.95"/>
<circle cx="584" cy="230.9" r="6" stroke="#0e0e0e" stroke-width="2.3" fill="#6e6e6e"/>
<circle cx="584" cy="230.9" r="3.64" stroke="#333" stroke-width="0.8" fill="#c8c8c8"/>
<path d="M578.96,230.9 H589.04 M584,225.86 V235.94" stroke="#222" stroke-width="0.9"/>
<line x1="492" y1="230.9" x2="594" y2="230.9" stroke="#1e1e1e" stroke-width="1.04"/>
<text x="0" y="0" transform="translate(627.3,216.2) scale(0.92,1)" font-size="10.1" text-anchor="start" fill="#1a1a1a" stroke="#1a1a1a" stroke-width="0.45" font-family="Liberation Sans" font-weight="normal">10-G3/4</text>
<path d="M590,228 L624,218.6 L664,218.6" stroke="#2a2a2a" stroke-width="0.81" fill="none"/>
<line x1="358.4" y1="303.7" x2="427.7" y2="303.7" stroke="#2a2a2a" stroke-width="1.08"/>
<line x1="379.2" y1="418" x2="427.7" y2="418" stroke="#2a2a2a" stroke-width="1.08"/>
<line x1="357.7" y1="432.6" x2="453" y2="432.6" stroke="#2a2a2a" stroke-width="1.08"/>
<rect x="427.7" y="303.7" width="192.4" height="114.3" stroke="#1e1e1e" stroke-width="1.56" fill="none"/>
<rect x="431.5" y="307.4" width="184.7" height="106.5" fill="none" stroke="#222" stroke-width="1.15" stroke-dasharray="3.6,2.4"/>
<rect x="440" y="315.2" width="167.7" height="91.3" stroke="#1e1e1e" stroke-width="1.43" fill="none"/>
<rect x="447.5" y="322.8" width="153.3" height="76.6" stroke="#1e1e1e" stroke-width="1.43" fill="none"/>
<line x1="440" y1="315.2" x2="447.5" y2="322.8" stroke="#1e1e1e" stroke-width="1.17"/>
<line x1="607.7" y1="315.2" x2="600.8" y2="322.8" stroke="#1e1e1e" stroke-width="1.17"/>
<line x1="440" y1="406.5" x2="447.5" y2="399.4" stroke="#1e1e1e" stroke-width="1.17"/>
<line x1="607.7" y1="406.5" x2="600.8" y2="399.4" stroke="#1e1e1e" stroke-width="1.17"/>
<rect x="510.8" y="368.8" width="26.5" height="20.2" stroke="#1e1e1e" stroke-width="1.3" fill="none"/>
<circle cx="431.5" cy="307.4" r="2.8" stroke="#1a1a1a" stroke-width="1.25" fill="#fff"/>
<path d="M428.7,307.4 H434.3 M431.5,304.6 V310.2" stroke="#333" stroke-width="0.55"/>
<circle cx="431.5" cy="413.9" r="2.8" stroke="#1a1a1a" stroke-width="1.25" fill="#fff"/>
<path d="M428.7,413.9 H434.3 M431.5,411.1 V416.7" stroke="#333" stroke-width="0.55"/>
<circle cx="463" cy="307.4" r="2.8" stroke="#1a1a1a" stroke-width="1.25" fill="#fff"/>
<path d="M460.2,307.4 H465.8 M463,304.6 V310.2" stroke="#333" stroke-width="0.55"/>
<circle cx="463" cy="413.9" r="2.8" stroke="#1a1a1a" stroke-width="1.25" fill="#fff"/>
<path d="M460.2,413.9 H465.8 M463,411.1 V416.7" stroke="#333" stroke-width="0.55"/>
<circle cx="493" cy="307.4" r="2.8" stroke="#1a1a1a" stroke-width="1.25" fill="#fff"/>
<path d="M490.2,307.4 H495.8 M493,304.6 V310.2" stroke="#333" stroke-width="0.55"/>
<circle cx="493" cy="413.9" r="2.8" stroke="#1a1a1a" stroke-width="1.25" fill="#fff"/>
<path d="M490.2,413.9 H495.8 M493,411.1 V416.7" stroke="#333" stroke-width="0.55"/>
<circle cx="523.6" cy="307.4" r="2.8" stroke="#1a1a1a" stroke-width="1.25" fill="#fff"/>
<path d="M520.8,307.4 H526.4 M523.6,304.6 V310.2" stroke="#333" stroke-width="0.55"/>
<circle cx="523.6" cy="413.9" r="2.8" stroke="#1a1a1a" stroke-width="1.25" fill="#fff"/>
<path d="M520.8,413.9 H526.4 M523.6,411.1 V416.7" stroke="#333" stroke-width="0.55"/>
<circle cx="554.4" cy="307.4" r="2.8" stroke="#1a1a1a" stroke-width="1.25" fill="#fff"/>
<path d="M551.6,307.4 H557.2 M554.4,304.6 V310.2" stroke="#333" stroke-width="0.55"/>
<circle cx="554.4" cy="413.9" r="2.8" stroke="#1a1a1a" stroke-width="1.25" fill="#fff"/>
<path d="M551.6,413.9 H557.2 M554.4,411.1 V416.7" stroke="#333" stroke-width="0.55"/>
<circle cx="585" cy="307.4" r="2.8" stroke="#1a1a1a" stroke-width="1.25" fill="#fff"/>
<path d="M582.2,307.4 H587.8 M585,304.6 V310.2" stroke="#333" stroke-width="0.55"/>
<circle cx="585" cy="413.9" r="2.8" stroke="#1a1a1a" stroke-width="1.25" fill="#fff"/>
<path d="M582.2,413.9 H587.8 M585,411.1 V416.7" stroke="#333" stroke-width="0.55"/>
<circle cx="616.2" cy="307.4" r="2.8" stroke="#1a1a1a" stroke-width="1.25" fill="#fff"/>
<path d="M613.4,307.4 H619 M616.2,304.6 V310.2" stroke="#333" stroke-width="0.55"/>
<circle cx="616.2" cy="413.9" r="2.8" stroke="#1a1a1a" stroke-width="1.25" fill="#fff"/>
<path d="M613.4,413.9 H619 M616.2,411.1 V416.7" stroke="#333" stroke-width="0.55"/>
<circle cx="431.5" cy="334" r="2.8" stroke="#1a1a1a" stroke-width="1.25" fill="#fff"/>
<path d="M428.7,334 H434.3 M431.5,331.2 V336.8" stroke="#333" stroke-width="0.55"/>
<circle cx="616.2" cy="334" r="2.8" stroke="#1a1a1a" stroke-width="1.25" fill="#fff"/>
<path d="M613.4,334 H619 M616.2,331.2 V336.8" stroke="#333" stroke-width="0.55"/>
<circle cx="431.5" cy="361" r="2.8" stroke="#1a1a1a" stroke-width="1.25" fill="#fff"/>
<path d="M428.7,361 H434.3 M431.5,358.2 V363.8" stroke="#333" stroke-width="0.55"/>
<circle cx="616.2" cy="361" r="2.8" stroke="#1a1a1a" stroke-width="1.25" fill="#fff"/>
<path d="M613.4,361 H619 M616.2,358.2 V363.8" stroke="#333" stroke-width="0.55"/>
<circle cx="431.5" cy="387.6" r="2.8" stroke="#1a1a1a" stroke-width="1.25" fill="#fff"/>
<path d="M428.7,387.6 H434.3 M431.5,384.8 V390.4" stroke="#333" stroke-width="0.55"/>
<circle cx="616.2" cy="387.6" r="2.8" stroke="#1a1a1a" stroke-width="1.25" fill="#fff"/>
<path d="M613.4,387.6 H619 M616.2,384.8 V390.4" stroke="#333" stroke-width="0.55"/>
<path d="M427.7,317.5 H407.2 V320.26 M427.7,329 H407.2 V326.24" stroke="#1a1a1a" stroke-width="1.35" fill="none"/>
<path d="M407.2,320.26 H417.45 L422.37,323.25 L417.45,326.24 H407.2" stroke="#1a1a1a" stroke-width="1.35" fill="none"/>
<path d="M427.7,392.5 H407.2 V395.26 M427.7,404 H407.2 V401.24" stroke="#1a1a1a" stroke-width="1.35" fill="none"/>
<path d="M407.2,395.26 H417.45 L422.37,398.25 L417.45,401.24 H407.2" stroke="#1a1a1a" stroke-width="1.35" fill="none"/>
<path d="M620.1,316.6 H640.3 V319.7 M620.1,329.5 H640.3 V326.4" stroke="#1a1a1a" stroke-width="1.35" fill="none"/>
<path d="M640.3,319.7 H630.2 L625.35,323.05 L630.2,326.4 H640.3" stroke="#1a1a1a" stroke-width="1.35" fill="none"/>
<path d="M620.1,392.7 H640.3 V395.56 M620.1,404.6 H640.3 V401.74" stroke="#1a1a1a" stroke-width="1.35" fill="none"/>
<path d="M640.3,395.56 H630.2 L625.35,398.65 L630.2,401.74 H640.3" stroke="#1a1a1a" stroke-width="1.35" fill="none"/>
<line x1="397" y1="323.3" x2="419" y2="323.3" stroke="#2a2a2a" stroke-width="1.08"/>
<path d="M419.5,323.3 L415.3,321.9 L415.3,324.7 Z" stroke="#1e1e1e" stroke-width="0.39" fill="#1e1e1e"/>
<line x1="397" y1="398.3" x2="419" y2="398.3" stroke="#2a2a2a" stroke-width="1.08"/>
<path d="M419.5,398.3 L415.3,396.9 L415.3,399.7 Z" stroke="#1e1e1e" stroke-width="0.39" fill="#1e1e1e"/>
<line x1="362.9" y1="303.7" x2="362.9" y2="432.6" stroke="#555" stroke-width="0.85"/>
<path d="M362.9,303.7 L361.3,308.7 L364.5,308.7 Z" stroke="#1e1e1e" stroke-width="0.39" fill="#1e1e1e"/>
<path d="M362.9,432.6 L361.3,427.6 L364.5,427.6 Z" stroke="#1e1e1e" stroke-width="0.39" fill="#1e1e1e"/>
<line x1="384.3" y1="303.7" x2="384.3" y2="418" stroke="#555" stroke-width="0.85"/>
<path d="M384.3,303.7 L382.7,308.7 L385.9,308.7 Z" stroke="#1e1e1e" stroke-width="0.39" fill="#1e1e1e"/>
<path d="M384.3,418 L382.7,413 L385.9,413 Z" stroke="#1e1e1e" stroke-width="0.39" fill="#1e1e1e"/>
<line x1="402" y1="323.3" x2="402" y2="398.3" stroke="#555" stroke-width="0.85"/>
<path d="M402,323.3 L400.4,328.3 L403.6,328.3 Z" stroke="#1e1e1e" stroke-width="0.39" fill="#1e1e1e"/>
<path d="M402,398.3 L400.4,393.3 L403.6,393.3 Z" stroke="#1e1e1e" stroke-width="0.39" fill="#1e1e1e"/>
<text x="0" y="0" transform="translate(356.5,368.2) rotate(-90) scale(0.92,1)" font-size="10.1" text-anchor="middle" dominant-baseline="central" fill="#1a1a1a" stroke="#1a1a1a" stroke-width="0.45" font-family="Liberation Sans" font-weight="normal">330</text>
<text x="0" y="0" transform="translate(378.6,360.2) rotate(-90) scale(0.92,1)" font-size="10.1" text-anchor="middle" dominant-baseline="central" fill="#1a1a1a" stroke="#1a1a1a" stroke-width="0.45" font-family="Liberation Sans" font-weight="normal">290</text>
<text x="0" y="0" transform="translate(396.8,361) rotate(-90) scale(0.92,1)" font-size="10.1" text-anchor="middle" dominant-baseline="central" fill="#1a1a1a" stroke="#1a1a1a" stroke-width="0.45" font-family="Liberation Sans" font-weight="normal">190</text>
<line x1="631" y1="320" x2="650" y2="320" stroke="#1e1e1e" stroke-width="1.1"/>
<line x1="631" y1="326.5" x2="650" y2="326.5" stroke="#1e1e1e" stroke-width="1.1"/>
<line x1="645.2" y1="311" x2="645.2" y2="352" stroke="#2a2a2a" stroke-width="0.94"/>
<path d="M645.2,320 L644,316.5 L646.4,316.5 Z" stroke="#1e1e1e" stroke-width="0.39" fill="#1e1e1e"/>
<path d="M645.2,326.5 L644,330 L646.4,330 Z" stroke="#1e1e1e" stroke-width="0.39" fill="#1e1e1e"/>
<text x="0" y="0" transform="translate(639.5,342.8) rotate(-90) scale(0.92,1)" font-size="10.1" text-anchor="middle" dominant-baseline="central" fill="#1a1a1a" stroke="#1a1a1a" stroke-width="0.45" font-family="Liberation Sans" font-weight="normal">12.5</text>
<path d="M453.2,418 V428 H476.7 V418" stroke="#1e1e1e" stroke-width="1.23" fill="none"/>
<rect x="452.6" y="428.6" width="24.7" height="4" rx="2.3" stroke="#1a1a1a" stroke-width="1.3" fill="#fff"/>
<line x1="456.56" y1="428.8" x2="456.56" y2="432.4" stroke="#222" stroke-width="1.1"/>
<line x1="459.91" y1="428.8" x2="459.91" y2="432.4" stroke="#222" stroke-width="1.1"/>
<line x1="463.27" y1="428.8" x2="463.27" y2="432.4" stroke="#222" stroke-width="1.1"/>
<line x1="466.63" y1="428.8" x2="466.63" y2="432.4" stroke="#222" stroke-width="1.1"/>
<line x1="469.99" y1="428.8" x2="469.99" y2="432.4" stroke="#222" stroke-width="1.1"/>
<line x1="473.34" y1="428.8" x2="473.34" y2="432.4" stroke="#222" stroke-width="1.1"/>
<path d="M485.9,418 V424 H501.3 V418" stroke="#1e1e1e" stroke-width="1.23" fill="none"/>
<rect x="485.3" y="424.6" width="16.6" height="4.9" rx="2.75" stroke="#1a1a1a" stroke-width="1.3" fill="#fff"/>
<line x1="489.75" y1="424.8" x2="489.75" y2="429.3" stroke="#222" stroke-width="1.1"/>
<line x1="493.6" y1="424.8" x2="493.6" y2="429.3" stroke="#222" stroke-width="1.1"/>
<line x1="497.45" y1="424.8" x2="497.45" y2="429.3" stroke="#222" stroke-width="1.1"/>
<path d="M506.6,418 V424 H522 V418" stroke="#1e1e1e" stroke-width="1.23" fill="none"/>
<rect x="506" y="424.6" width="16.6" height="4.9" rx="2.75" stroke="#1a1a1a" stroke-width="1.3" fill="#fff"/>
<line x1="510.45" y1="424.8" x2="510.45" y2="429.3" stroke="#222" stroke-width="1.1"/>
<line x1="514.3" y1="424.8" x2="514.3" y2="429.3" stroke="#222" stroke-width="1.1"/>
<line x1="518.15" y1="424.8" x2="518.15" y2="429.3" stroke="#222" stroke-width="1.1"/>
<path d="M527,418 V424 H542.4 V418" stroke="#1e1e1e" stroke-width="1.23" fill="none"/>
<rect x="526.4" y="424.6" width="16.6" height="4.9" rx="2.75" stroke="#1a1a1a" stroke-width="1.3" fill="#fff"/>
<line x1="530.85" y1="424.8" x2="530.85" y2="429.3" stroke="#222" stroke-width="1.1"/>
<line x1="534.7" y1="424.8" x2="534.7" y2="429.3" stroke="#222" stroke-width="1.1"/>
<line x1="538.55" y1="424.8" x2="538.55" y2="429.3" stroke="#222" stroke-width="1.1"/>
<path d="M547.7,418 V424 H563.1 V418" stroke="#1e1e1e" stroke-width="1.23" fill="none"/>
<rect x="547.1" y="424.6" width="16.6" height="4.9" rx="2.75" stroke="#1a1a1a" stroke-width="1.3" fill="#fff"/>
<line x1="551.55" y1="424.8" x2="551.55" y2="429.3" stroke="#222" stroke-width="1.1"/>
<line x1="555.4" y1="424.8" x2="555.4" y2="429.3" stroke="#222" stroke-width="1.1"/>
<line x1="559.25" y1="424.8" x2="559.25" y2="429.3" stroke="#222" stroke-width="1.1"/>
<path d="M568,418 V424 H583.4 V418" stroke="#1e1e1e" stroke-width="1.23" fill="none"/>
<rect x="567.4" y="424.6" width="16.6" height="4.9" rx="2.75" stroke="#1a1a1a" stroke-width="1.3" fill="#fff"/>
<line x1="571.85" y1="424.8" x2="571.85" y2="429.3" stroke="#222" stroke-width="1.1"/>
<line x1="575.7" y1="424.8" x2="575.7" y2="429.3" stroke="#222" stroke-width="1.1"/>
<line x1="579.55" y1="424.8" x2="579.55" y2="429.3" stroke="#222" stroke-width="1.1"/>
<line x1="427.7" y1="418" x2="427.7" y2="453" stroke="#2a2a2a" stroke-width="1.08"/>
<line x1="620.1" y1="404" x2="620.1" y2="453" stroke="#2a2a2a" stroke-width="1.08"/>
<line x1="415.6" y1="398" x2="415.6" y2="468.5" stroke="#2a2a2a" stroke-width="1.08"/>
<line x1="633" y1="404" x2="633" y2="469" stroke="#2a2a2a" stroke-width="1.08"/>
<line x1="407.6" y1="392" x2="407.6" y2="482.5" stroke="#2a2a2a" stroke-width="1.08"/>
<line x1="639.9" y1="404" x2="639.9" y2="482.5" stroke="#2a2a2a" stroke-width="1.08"/>
<line x1="427.7" y1="446.6" x2="620.1" y2="446.6" stroke="#555" stroke-width="0.85"/>
<path d="M427.7,446.6 L432.7,445 L432.7,448.2 Z" stroke="#1e1e1e" stroke-width="0.39" fill="#1e1e1e"/>
<path d="M620.1,446.6 L615.1,445 L615.1,448.2 Z" stroke="#1e1e1e" stroke-width="0.39" fill="#1e1e1e"/>
<line x1="415.6" y1="463.4" x2="633" y2="463.4" stroke="#555" stroke-width="0.85"/>
<path d="M415.6,463.4 L420.6,461.8 L420.6,465 Z" stroke="#1e1e1e" stroke-width="0.39" fill="#1e1e1e"/>
<path d="M633,463.4 L628,461.8 L628,465 Z" stroke="#1e1e1e" stroke-width="0.39" fill="#1e1e1e"/>
<line x1="407.6" y1="478.9" x2="639.9" y2="478.9" stroke="#555" stroke-width="0.85"/>
<path d="M407.6,478.9 L412.6,477.3 L412.6,480.5 Z" stroke="#1e1e1e" stroke-width="0.39" fill="#1e1e1e"/>
<path d="M639.9,478.9 L634.9,477.3 L634.9,480.5 Z" stroke="#1e1e1e" stroke-width="0.39" fill="#1e1e1e"/>
<text x="0" y="0" transform="translate(527.5,445) scale(0.92,1)" font-size="10.1" text-anchor="middle" fill="#1a1a1a" stroke="#1a1a1a" stroke-width="0.45" font-family="Liberation Sans" font-weight="normal">470</text>
<text x="0" y="0" transform="translate(527.5,461.6) scale(0.92,1)" font-size="10.1" text-anchor="middle" fill="#1a1a1a" stroke="#1a1a1a" stroke-width="0.45" font-family="Liberation Sans" font-weight="normal">530</text>
<text x="0" y="0" transform="translate(527.5,476.4) scale(0.92,1)" font-size="10.1" text-anchor="middle" fill="#1a1a1a" stroke="#1a1a1a" stroke-width="0.45" font-family="Liberation Sans" font-weight="normal">570</text>
<text x="481.8" y="519" font-size="9.4" fill="#1a1a1a" stroke="#1a1a1a" stroke-width="0.35" font-family="Liberation Sans"><tspan>JBB-22×1(G</tspan><tspan font-size="6.6" dy="-3.4" dx="1.5">1</tspan><tspan font-size="6.6" dx="-3.97" dy="6.0">2</tspan><tspan dy="-2.6" dx="1.6">)×10(G</tspan><tspan font-size="6.6" dy="-3.4" dx="1.5">3</tspan><tspan font-size="6.6" dx="-3.97" dy="6.0">4</tspan><tspan dy="-2.6" dx="1.6">)</tspan></text>
<line x1="83.2" y1="587" x2="262.8" y2="587" stroke="#1e1e1e" stroke-width="1.3"/>
<rect x="152.8" y="587" width="110" height="13.3" stroke="#1e1e1e" stroke-width="1.3" fill="none"/>
<line x1="152.8" y1="593" x2="262.8" y2="593" stroke="#1e1e1e" stroke-width="1.04"/>
<path d="M154.5,590 V585.5 H173.6 V590" stroke="#222" stroke-width="1" fill="none"/>
<line x1="156.89" y1="585.5" x2="156.89" y2="590" stroke="#444" stroke-width="0.7"/>
<line x1="159.28" y1="585.5" x2="159.28" y2="590" stroke="#444" stroke-width="0.7"/>
<line x1="161.66" y1="585.5" x2="161.66" y2="590" stroke="#444" stroke-width="0.7"/>
<line x1="164.05" y1="585.5" x2="164.05" y2="590" stroke="#444" stroke-width="0.7"/>
<line x1="166.44" y1="585.5" x2="166.44" y2="590" stroke="#444" stroke-width="0.7"/>
<line x1="168.82" y1="585.5" x2="168.82" y2="590" stroke="#444" stroke-width="0.7"/>
<line x1="171.21" y1="585.5" x2="171.21" y2="590" stroke="#444" stroke-width="0.7"/>
<path d="M202.5,590 V585.5 H211 V590" stroke="#222" stroke-width="1" fill="none"/>
<line x1="205.33" y1="585.5" x2="205.33" y2="590" stroke="#444" stroke-width="0.7"/>
<line x1="208.17" y1="585.5" x2="208.17" y2="590" stroke="#444" stroke-width="0.7"/>
<path d="M239.8,590 V585.5 H259.4 V590" stroke="#222" stroke-width="1" fill="none"/>
<line x1="242.25" y1="585.5" x2="242.25" y2="590" stroke="#444" stroke-width="0.7"/>
<line x1="244.7" y1="585.5" x2="244.7" y2="590" stroke="#444" stroke-width="0.7"/>
<line x1="247.15" y1="585.5" x2="247.15" y2="590" stroke="#444" stroke-width="0.7"/>
<line x1="249.6" y1="585.5" x2="249.6" y2="590" stroke="#444" stroke-width="0.7"/>
<line x1="252.05" y1="585.5" x2="252.05" y2="590" stroke="#444" stroke-width="0.7"/>
<line x1="254.5" y1="585.5" x2="254.5" y2="590" stroke="#444" stroke-width="0.7"/>
<line x1="256.95" y1="585.5" x2="256.95" y2="590" stroke="#444" stroke-width="0.7"/>
<rect x="146.9" y="600.3" width="121.5" height="39.2" stroke="#1e1e1e" stroke-width="1.43" fill="none"/>
<path d="M103,638.2 L160,638.2 L162,642 L103,642 Z" stroke="#1e1e1e" stroke-width="1.17" fill="#acacac"/>
<path d="M254,639.5 L285.2,639.5 L285.2,642 L256,642 Z" stroke="#1e1e1e" stroke-width="1.17" fill="#acacac"/>
<line x1="83.2" y1="642" x2="103" y2="642" stroke="#2a2a2a" stroke-width="1.08"/>
<line x1="89.9" y1="587" x2="89.9" y2="642" stroke="#555" stroke-width="0.85"/>
<path d="M89.9,587 L88.3,592 L91.5,592 Z" stroke="#1e1e1e" stroke-width="0.39" fill="#1e1e1e"/>
<path d="M89.9,642 L88.3,637 L91.5,637 Z" stroke="#1e1e1e" stroke-width="0.39" fill="#1e1e1e"/>
<line x1="108.5" y1="587" x2="108.5" y2="638.2" stroke="#555" stroke-width="0.85"/>
<path d="M108.5,587 L106.9,592 L110.1,592 Z" stroke="#1e1e1e" stroke-width="0.39" fill="#1e1e1e"/>
<path d="M108.5,638.2 L106.9,633.2 L110.1,633.2 Z" stroke="#1e1e1e" stroke-width="0.39" fill="#1e1e1e"/>
<text x="0" y="0" transform="translate(84,613.4) rotate(-90) scale(0.92,1)" font-size="10.1" text-anchor="middle" dominant-baseline="central" fill="#1a1a1a" stroke="#1a1a1a" stroke-width="0.45" font-family="Liberation Sans" font-weight="normal">145</text>
<text x="0" y="0" transform="translate(103.7,613.4) rotate(-90) scale(0.92,1)" font-size="10.1" text-anchor="middle" dominant-baseline="central" fill="#1a1a1a" stroke="#1a1a1a" stroke-width="0.45" font-family="Liberation Sans" font-weight="normal">134</text>
<line x1="144.8" y1="618.5" x2="276.4" y2="618.5" stroke="#1e1e1e" stroke-width="1.04"/>
<path d="M149,618.3 H172.6 M160.8,606.5 V630.1" stroke="#1a1a1a" stroke-width="1.0"/>
<circle cx="160.8" cy="618.3" r="8.95" stroke="#111" stroke-width="2.5" fill="none"/>
<circle cx="160.8" cy="618.3" r="7.04" stroke="#222" stroke-width="0.9" fill="none"/>
<circle cx="160.8" cy="618.3" r="4.59" stroke="#222" stroke-width="1.1" fill="none"/>
<path d="M172.6,618.8 H190.6 M181.6,609.8 V627.8" stroke="#1a1a1a" stroke-width="0.95"/>
<circle cx="181.6" cy="618.8" r="6.3" stroke="#0e0e0e" stroke-width="2.3" fill="#6e6e6e"/>
<circle cx="181.6" cy="618.8" r="3.8" stroke="#333" stroke-width="0.8" fill="#c8c8c8"/>
<path d="M176.34,618.8 H186.86 M181.6,613.54 V624.06" stroke="#222" stroke-width="0.9"/>
<path d="M193,618.8 H211 M202,609.8 V627.8" stroke="#1a1a1a" stroke-width="0.95"/>
<circle cx="202" cy="618.8" r="6.3" stroke="#0e0e0e" stroke-width="2.3" fill="#6e6e6e"/>
<circle cx="202" cy="618.8" r="3.8" stroke="#333" stroke-width="0.8" fill="#c8c8c8"/>
<path d="M196.74,618.8 H207.26 M202,613.54 V624.06" stroke="#222" stroke-width="0.9"/>
<path d="M212.2,618.8 H230.2 M221.2,609.8 V627.8" stroke="#1a1a1a" stroke-width="0.95"/>
<circle cx="221.2" cy="618.8" r="6.3" stroke="#0e0e0e" stroke-width="2.3" fill="#6e6e6e"/>
<circle cx="221.2" cy="618.8" r="3.8" stroke="#333" stroke-width="0.8" fill="#c8c8c8"/>
<path d="M215.94,618.8 H226.46 M221.2,613.54 V624.06" stroke="#222" stroke-width="0.9"/>
<path d="M231.1,618.8 H249.1 M240.1,609.8 V627.8" stroke="#1a1a1a" stroke-width="0.95"/>
<circle cx="240.1" cy="618.8" r="6.3" stroke="#0e0e0e" stroke-width="2.3" fill="#6e6e6e"/>
<circle cx="240.1" cy="618.8" r="3.8" stroke="#333" stroke-width="0.8" fill="#c8c8c8"/>
<path d="M234.84,618.8 H245.36 M240.1,613.54 V624.06" stroke="#222" stroke-width="0.9"/>
<path d="M250.3,618.8 H268.3 M259.3,609.8 V627.8" stroke="#1a1a1a" stroke-width="0.95"/>
<circle cx="259.3" cy="618.8" r="6.3" stroke="#0e0e0e" stroke-width="2.3" fill="#6e6e6e"/>
<circle cx="259.3" cy="618.8" r="3.8" stroke="#333" stroke-width="0.8" fill="#c8c8c8"/>
<path d="M254.04,618.8 H264.56 M259.3,613.54 V624.06" stroke="#222" stroke-width="0.9"/>
<text x="0" y="0" transform="translate(116,602.5) scale(0.92,1)" font-size="10.1" text-anchor="start" fill="#1a1a1a" stroke="#1a1a1a" stroke-width="0.45" font-family="Liberation Sans" font-weight="normal">G1 1/4</text>
<path d="M115.5,605 L146,605 L154,611" stroke="#2a2a2a" stroke-width="0.81" fill="none"/>
<text x="0" y="0" transform="translate(276.4,603) scale(0.92,1)" font-size="10.1" text-anchor="start" fill="#1a1a1a" stroke="#1a1a1a" stroke-width="0.45" font-family="Liberation Sans" font-weight="normal">5-G3/4</text>
<path d="M265,614 L279,605.4 L310,605.4" stroke="#2a2a2a" stroke-width="0.81" fill="none"/>
<rect x="268.4" y="625" width="5.6" height="10" stroke="#1e1e1e" stroke-width="1.04" fill="none"/>
<line x1="268.4" y1="630" x2="274" y2="630" stroke="#1e1e1e" stroke-width="0.78"/>
<line x1="84" y1="692.8" x2="145.9" y2="692.8" stroke="#2a2a2a" stroke-width="1.08"/>
<line x1="103.2" y1="801.3" x2="145.9" y2="801.3" stroke="#2a2a2a" stroke-width="1.08"/>
<line x1="84" y1="820.5" x2="156" y2="820.5" stroke="#2a2a2a" stroke-width="1.08"/>
<rect x="145.9" y="692.8" width="123.6" height="108.5" stroke="#1e1e1e" stroke-width="1.56" fill="none"/>
<circle cx="208" cy="747" r="55.4" stroke="#1e1e1e" stroke-width="1.56" fill="none"/>
<circle cx="208" cy="747" r="47.6" stroke="#1e1e1e" stroke-width="1.43" fill="none"/>
<circle cx="208" cy="747" r="44.6" stroke="#1e1e1e" stroke-width="1.3" fill="none"/>
<circle cx="208" cy="747" r="51.5" fill="none" stroke="#222" stroke-width="1.15" stroke-dasharray="3.6,2.4"/>
<circle cx="259.5" cy="747" r="2.8" stroke="#1a1a1a" stroke-width="1.25" fill="#fff"/>
<path d="M256.7,747 H262.3 M259.5,744.2 V749.8" stroke="#333" stroke-width="0.55"/>
<circle cx="244.42" cy="710.58" r="2.8" stroke="#1a1a1a" stroke-width="1.25" fill="#fff"/>
<path d="M241.62,710.58 H247.22 M244.42,707.78 V713.38" stroke="#333" stroke-width="0.55"/>
<circle cx="208" cy="695.5" r="2.8" stroke="#1a1a1a" stroke-width="1.25" fill="#fff"/>
<path d="M205.2,695.5 H210.8 M208,692.7 V698.3" stroke="#333" stroke-width="0.55"/>
<circle cx="171.58" cy="710.58" r="2.8" stroke="#1a1a1a" stroke-width="1.25" fill="#fff"/>
<path d="M168.78,710.58 H174.38 M171.58,707.78 V713.38" stroke="#333" stroke-width="0.55"/>
<circle cx="156.5" cy="747" r="2.8" stroke="#1a1a1a" stroke-width="1.25" fill="#fff"/>
<path d="M153.7,747 H159.3 M156.5,744.2 V749.8" stroke="#333" stroke-width="0.55"/>
<circle cx="171.58" cy="783.42" r="2.8" stroke="#1a1a1a" stroke-width="1.25" fill="#fff"/>
<path d="M168.78,783.42 H174.38 M171.58,780.62 V786.22" stroke="#333" stroke-width="0.55"/>
<circle cx="208" cy="798.5" r="2.8" stroke="#1a1a1a" stroke-width="1.25" fill="#fff"/>
<path d="M205.2,798.5 H210.8 M208,795.7 V801.3" stroke="#333" stroke-width="0.55"/>
<circle cx="244.42" cy="783.42" r="2.8" stroke="#1a1a1a" stroke-width="1.25" fill="#fff"/>
<path d="M241.62,783.42 H247.22 M244.42,780.62 V786.22" stroke="#333" stroke-width="0.55"/>
<circle cx="253.47" cy="722.82" r="1.6" stroke="#1e1e1e" stroke-width="0.78" fill="#222"/>
<circle cx="163.4" cy="772.75" r="1.6" stroke="#1e1e1e" stroke-width="0.78" fill="#222"/>
<rect x="195.6" y="751.5" width="25.9" height="19.2" stroke="#1e1e1e" stroke-width="1.3" fill="none"/>
<path d="M145.9,693.6 H130.4 V696.41 M145.9,705.3 H130.4 V702.49" stroke="#1a1a1a" stroke-width="1.35" fill="none"/>
<path d="M130.4,696.41 H138.15 L141.87,699.45 L138.15,702.49 H130.4" stroke="#1a1a1a" stroke-width="1.35" fill="none"/>
<path d="M145.9,789.6 H130.4 V792.34 M145.9,801 H130.4 V798.26" stroke="#1a1a1a" stroke-width="1.35" fill="none"/>
<path d="M130.4,792.34 H138.15 L141.87,795.3 L138.15,798.26 H130.4" stroke="#1a1a1a" stroke-width="1.35" fill="none"/>
<path d="M269.5,692.8 H286 V695.68 M269.5,704.8 H286 V701.92" stroke="#1a1a1a" stroke-width="1.35" fill="none"/>
<path d="M286,695.68 H277.75 L273.79,698.8 L277.75,701.92 H286" stroke="#1a1a1a" stroke-width="1.35" fill="none"/>
<path d="M269.5,789.5 H286 V792.31 M269.5,801.2 H286 V798.39" stroke="#1a1a1a" stroke-width="1.35" fill="none"/>
<path d="M286,792.31 H277.75 L273.79,795.35 L277.75,798.39 H286" stroke="#1a1a1a" stroke-width="1.35" fill="none"/>
<line x1="121.6" y1="699.3" x2="142.5" y2="699.3" stroke="#2a2a2a" stroke-width="1.08"/>
<path d="M143,699.3 L138.8,697.9 L138.8,700.7 Z" stroke="#1e1e1e" stroke-width="0.39" fill="#1e1e1e"/>
<line x1="121.6" y1="795.2" x2="142.5" y2="795.2" stroke="#2a2a2a" stroke-width="1.08"/>
<path d="M143,795.2 L138.8,793.8 L138.8,796.6 Z" stroke="#1e1e1e" stroke-width="0.39" fill="#1e1e1e"/>
<line x1="88.8" y1="692.8" x2="88.8" y2="820.5" stroke="#555" stroke-width="0.85"/>
<path d="M88.8,692.8 L87.2,697.8 L90.4,697.8 Z" stroke="#1e1e1e" stroke-width="0.39" fill="#1e1e1e"/>
<path d="M88.8,820.5 L87.2,815.5 L90.4,815.5 Z" stroke="#1e1e1e" stroke-width="0.39" fill="#1e1e1e"/>
<line x1="108" y1="692.8" x2="108" y2="801.3" stroke="#555" stroke-width="0.85"/>
<path d="M108,692.8 L106.4,697.8 L109.6,697.8 Z" stroke="#1e1e1e" stroke-width="0.39" fill="#1e1e1e"/>
<path d="M108,801.3 L106.4,796.3 L109.6,796.3 Z" stroke="#1e1e1e" stroke-width="0.39" fill="#1e1e1e"/>
<line x1="126.4" y1="699.3" x2="126.4" y2="795.2" stroke="#555" stroke-width="0.85"/>
<path d="M126.4,699.3 L124.8,704.3 L128,704.3 Z" stroke="#1e1e1e" stroke-width="0.39" fill="#1e1e1e"/>
<path d="M126.4,795.2 L124.8,790.2 L128,790.2 Z" stroke="#1e1e1e" stroke-width="0.39" fill="#1e1e1e"/>
<text x="0" y="0" transform="translate(83.2,756.7) rotate(-90) scale(0.92,1)" font-size="10.1" text-anchor="middle" dominant-baseline="central" fill="#1a1a1a" stroke="#1a1a1a" stroke-width="0.45" font-family="Liberation Sans" font-weight="normal">340</text>
<text x="0" y="0" transform="translate(102.9,746.3) rotate(-90) scale(0.92,1)" font-size="10.1" text-anchor="middle" dominant-baseline="central" fill="#1a1a1a" stroke="#1a1a1a" stroke-width="0.45" font-family="Liberation Sans" font-weight="normal">280</text>
<text x="0" y="0" transform="translate(121.3,749) rotate(-90) scale(0.92,1)" font-size="10.1" text-anchor="middle" dominant-baseline="central" fill="#1a1a1a" stroke="#1a1a1a" stroke-width="0.45" font-family="Liberation Sans" font-weight="normal">250</text>
<line x1="282" y1="695.8" x2="311" y2="695.8" stroke="#1e1e1e" stroke-width="1.1"/>
<line x1="282" y1="702" x2="311" y2="702" stroke="#1e1e1e" stroke-width="1.1"/>
<line x1="306.8" y1="687" x2="306.8" y2="732" stroke="#2a2a2a" stroke-width="0.94"/>
<path d="M306.8,695.8 L305.6,692.3 L308,692.3 Z" stroke="#1e1e1e" stroke-width="0.39" fill="#1e1e1e"/>
<path d="M306.8,702 L305.6,705.5 L308,705.5 Z" stroke="#1e1e1e" stroke-width="0.39" fill="#1e1e1e"/>
<text x="0" y="0" transform="translate(300.6,717) rotate(-90) scale(0.92,1)" font-size="10.1" text-anchor="middle" dominant-baseline="central" fill="#1a1a1a" stroke="#1a1a1a" stroke-width="0.45" font-family="Liberation Sans" font-weight="normal">12.5</text>
<path d="M155.2,801.3 V815.5 H170.2 V801.3" stroke="#1e1e1e" stroke-width="1.23" fill="none"/>
<rect x="154.6" y="816.1" width="16.2" height="4.4" rx="2.5" stroke="#1a1a1a" stroke-width="1.3" fill="#fff"/>
<line x1="158.95" y1="816.3" x2="158.95" y2="820.3" stroke="#222" stroke-width="1.1"/>
<line x1="162.7" y1="816.3" x2="162.7" y2="820.3" stroke="#222" stroke-width="1.1"/>
<line x1="166.45" y1="816.3" x2="166.45" y2="820.3" stroke="#222" stroke-width="1.1"/>
<path d="M174.4,801.3 V815.5 H189.4 V801.3" stroke="#1e1e1e" stroke-width="1.23" fill="none"/>
<rect x="173.8" y="816.1" width="16.2" height="4.4" rx="2.5" stroke="#1a1a1a" stroke-width="1.3" fill="#fff"/>
<line x1="178.15" y1="816.3" x2="178.15" y2="820.3" stroke="#222" stroke-width="1.1"/>
<line x1="181.9" y1="816.3" x2="181.9" y2="820.3" stroke="#222" stroke-width="1.1"/>
<line x1="185.65" y1="816.3" x2="185.65" y2="820.3" stroke="#222" stroke-width="1.1"/>
<path d="M194,801.3 V815.5 H209 V801.3" stroke="#1e1e1e" stroke-width="1.23" fill="none"/>
<rect x="193.4" y="816.1" width="16.2" height="4.4" rx="2.5" stroke="#1a1a1a" stroke-width="1.3" fill="#fff"/>
<line x1="197.75" y1="816.3" x2="197.75" y2="820.3" stroke="#222" stroke-width="1.1"/>
<line x1="201.5" y1="816.3" x2="201.5" y2="820.3" stroke="#222" stroke-width="1.1"/>
<line x1="205.25" y1="816.3" x2="205.25" y2="820.3" stroke="#222" stroke-width="1.1"/>
<path d="M213.7,801.3 V815.5 H228.7 V801.3" stroke="#1e1e1e" stroke-width="1.23" fill="none"/>
<rect x="213.1" y="816.1" width="16.2" height="4.4" rx="2.5" stroke="#1a1a1a" stroke-width="1.3" fill="#fff"/>
<line x1="217.45" y1="816.3" x2="217.45" y2="820.3" stroke="#222" stroke-width="1.1"/>
<line x1="221.2" y1="816.3" x2="221.2" y2="820.3" stroke="#222" stroke-width="1.1"/>
<line x1="224.95" y1="816.3" x2="224.95" y2="820.3" stroke="#222" stroke-width="1.1"/>
<path d="M232.8,801.3 V815.5 H247.8 V801.3" stroke="#1e1e1e" stroke-width="1.23" fill="none"/>
<rect x="232.2" y="816.1" width="16.2" height="4.4" rx="2.5" stroke="#1a1a1a" stroke-width="1.3" fill="#fff"/>
<line x1="236.55" y1="816.3" x2="236.55" y2="820.3" stroke="#222" stroke-width="1.1"/>
<line x1="240.3" y1="816.3" x2="240.3" y2="820.3" stroke="#222" stroke-width="1.1"/>
<line x1="244.05" y1="816.3" x2="244.05" y2="820.3" stroke="#222" stroke-width="1.1"/>
<path d="M252,801.3 V815.5 H267 V801.3" stroke="#1e1e1e" stroke-width="1.23" fill="none"/>
<rect x="251.4" y="816.1" width="16.2" height="4.4" rx="2.5" stroke="#1a1a1a" stroke-width="1.3" fill="#fff"/>
<line x1="255.75" y1="816.3" x2="255.75" y2="820.3" stroke="#222" stroke-width="1.1"/>
<line x1="259.5" y1="816.3" x2="259.5" y2="820.3" stroke="#222" stroke-width="1.1"/>
<line x1="263.25" y1="816.3" x2="263.25" y2="820.3" stroke="#222" stroke-width="1.1"/>
<rect x="270" y="775.6" width="6.4" height="7.2" stroke="#1e1e1e" stroke-width="1.04" fill="none"/>
<line x1="145.9" y1="801.3" x2="145.9" y2="839.2" stroke="#2a2a2a" stroke-width="1.08"/>
<line x1="269.5" y1="801.2" x2="269.5" y2="839" stroke="#2a2a2a" stroke-width="1.08"/>
<line x1="137.6" y1="795" x2="137.6" y2="856.5" stroke="#2a2a2a" stroke-width="1.08"/>
<line x1="278" y1="801" x2="278" y2="856.5" stroke="#2a2a2a" stroke-width="1.08"/>
<line x1="129.6" y1="790" x2="129.6" y2="871.8" stroke="#2a2a2a" stroke-width="1.08"/>
<line x1="286" y1="801" x2="286" y2="871.8" stroke="#2a2a2a" stroke-width="1.08"/>
<line x1="145.9" y1="834.6" x2="269.5" y2="834.6" stroke="#555" stroke-width="0.85"/>
<path d="M145.9,834.6 L150.9,833 L150.9,836.2 Z" stroke="#1e1e1e" stroke-width="0.39" fill="#1e1e1e"/>
<path d="M269.5,834.6 L264.5,833 L264.5,836.2 Z" stroke="#1e1e1e" stroke-width="0.39" fill="#1e1e1e"/>
<line x1="137.6" y1="852.7" x2="278" y2="852.7" stroke="#555" stroke-width="0.85"/>
<path d="M137.6,852.7 L142.6,851.1 L142.6,854.3 Z" stroke="#1e1e1e" stroke-width="0.39" fill="#1e1e1e"/>
<path d="M278,852.7 L273,851.1 L273,854.3 Z" stroke="#1e1e1e" stroke-width="0.39" fill="#1e1e1e"/>
<line x1="129.6" y1="868.2" x2="286" y2="868.2" stroke="#555" stroke-width="0.85"/>
<path d="M129.6,868.2 L134.6,866.6 L134.6,869.8 Z" stroke="#1e1e1e" stroke-width="0.39" fill="#1e1e1e"/>
<path d="M286,868.2 L281,866.6 L281,869.8 Z" stroke="#1e1e1e" stroke-width="0.39" fill="#1e1e1e"/>
<text x="0" y="0" transform="translate(209,833) scale(0.92,1)" font-size="10.1" text-anchor="middle" fill="#1a1a1a" stroke="#1a1a1a" stroke-width="0.45" font-family="Liberation Sans" font-weight="normal">310</text>
<text x="0" y="0" transform="translate(209,850.8) scale(0.92,1)" font-size="10.1" text-anchor="middle" fill="#1a1a1a" stroke="#1a1a1a" stroke-width="0.45" font-family="Liberation Sans" font-weight="normal">350</text>
<text x="0" y="0" transform="translate(209,865.2) scale(0.92,1)" font-size="10.1" text-anchor="middle" fill="#1a1a1a" stroke="#1a1a1a" stroke-width="0.45" font-family="Liberation Sans" font-weight="normal">390</text>
<text x="144.2" y="910.6" font-size="9.4" fill="#1a1a1a" stroke="#1a1a1a" stroke-width="0.35" font-family="Liberation Sans"><tspan>JBC-21×1(G1</tspan><tspan font-size="6.6" dy="-3.4" dx="1.5">1</tspan><tspan font-size="6.6" dx="-3.97" dy="6.0">4</tspan><tspan dy="-2.6" dx="1.6">)×5(G1</tspan><tspan font-size="6.6" dy="-3.4" dx="1.5">3</tspan><tspan font-size="6.6" dx="-3.97" dy="6.0">4</tspan><tspan dy="-2.6" dx="1.6">)</tspan></text>
<line x1="374.6" y1="578.8" x2="594" y2="578.8" stroke="#1e1e1e" stroke-width="1.3"/>
<line x1="391.4" y1="582" x2="454.6" y2="582" stroke="#2a2a2a" stroke-width="1.08"/>
<rect x="454.6" y="578.8" width="139.4" height="17" stroke="#1e1e1e" stroke-width="1.3" fill="none"/>
<line x1="454.6" y1="582" x2="594" y2="582" stroke="#1e1e1e" stroke-width="1.04"/>
<line x1="454.6" y1="586" x2="594" y2="586" stroke="#1e1e1e" stroke-width="1.04"/>
<path d="M456.3,583 V578.3 H464 V583" stroke="#222" stroke-width="1" fill="none"/>
<line x1="458.87" y1="578.5" x2="458.87" y2="583" stroke="#444" stroke-width="0.7"/>
<line x1="461.43" y1="578.5" x2="461.43" y2="583" stroke="#444" stroke-width="0.7"/>
<path d="M473.6,583 V578.3 H483 V583" stroke="#222" stroke-width="1" fill="none"/>
<line x1="475.95" y1="578.5" x2="475.95" y2="583" stroke="#444" stroke-width="0.7"/>
<line x1="478.3" y1="578.5" x2="478.3" y2="583" stroke="#444" stroke-width="0.7"/>
<line x1="480.65" y1="578.5" x2="480.65" y2="583" stroke="#444" stroke-width="0.7"/>
<path d="M520,583 V578.3 H526 V583" stroke="#222" stroke-width="1" fill="none"/>
<line x1="522" y1="578.5" x2="522" y2="583" stroke="#444" stroke-width="0.7"/>
<line x1="524" y1="578.5" x2="524" y2="583" stroke="#444" stroke-width="0.7"/>
<path d="M566,583 V578.3 H574.3 V583" stroke="#222" stroke-width="1" fill="none"/>
<line x1="568.08" y1="578.5" x2="568.08" y2="583" stroke="#444" stroke-width="0.7"/>
<line x1="570.15" y1="578.5" x2="570.15" y2="583" stroke="#444" stroke-width="0.7"/>
<line x1="572.22" y1="578.5" x2="572.22" y2="583" stroke="#444" stroke-width="0.7"/>
<path d="M583,582 L586,577.5 H591 L593.5,580" stroke="#222" stroke-width="1" fill="none"/>
<rect x="433.5" y="595.8" width="183.2" height="47.2" stroke="#1e1e1e" stroke-width="1.43" fill="none"/>
<path d="M418,642.5 L460,642.5 L458,646.5 L420,646.5 Z" stroke="#1e1e1e" stroke-width="1.17" fill="#acacac"/>
<path d="M591.6,643 L633.2,643 L633.2,646.3 L593.6,646.3 Z" stroke="#1e1e1e" stroke-width="1.17" fill="#acacac"/>
<line x1="374.6" y1="646.5" x2="420" y2="646.5" stroke="#2a2a2a" stroke-width="1.08"/>
<line x1="391.4" y1="641.7" x2="448" y2="641.7" stroke="#2a2a2a" stroke-width="1.08"/>
<line x1="379" y1="578.8" x2="379" y2="646.5" stroke="#555" stroke-width="0.85"/>
<path d="M379,578.8 L377.4,583.8 L380.6,583.8 Z" stroke="#1e1e1e" stroke-width="0.39" fill="#1e1e1e"/>
<path d="M379,646.5 L377.4,641.5 L380.6,641.5 Z" stroke="#1e1e1e" stroke-width="0.39" fill="#1e1e1e"/>
<line x1="395.4" y1="582" x2="395.4" y2="641.7" stroke="#555" stroke-width="0.85"/>
<path d="M395.4,582 L393.8,587 L397,587 Z" stroke="#1e1e1e" stroke-width="0.39" fill="#1e1e1e"/>
<path d="M395.4,641.7 L393.8,636.7 L397,636.7 Z" stroke="#1e1e1e" stroke-width="0.39" fill="#1e1e1e"/>
<text x="0" y="0" transform="translate(372.7,613.2) rotate(-90) scale(0.92,1)" font-size="10.1" text-anchor="middle" dominant-baseline="central" fill="#1a1a1a" stroke="#1a1a1a" stroke-width="0.45" font-family="Liberation Sans" font-weight="normal">180</text>
<text x="0" y="0" transform="translate(390.6,613.2) rotate(-90) scale(0.92,1)" font-size="10.1" text-anchor="middle" dominant-baseline="central" fill="#1a1a1a" stroke="#1a1a1a" stroke-width="0.45" font-family="Liberation Sans" font-weight="normal">164</text>
<path d="M445.4,618.8 H476.6 M461,603.2 V634.4" stroke="#1a1a1a" stroke-width="1.0"/>
<circle cx="461" cy="618.8" r="12.3" stroke="#111" stroke-width="3.4" fill="none"/>
<circle cx="461" cy="618.8" r="9.66" stroke="#222" stroke-width="0.9" fill="none"/>
<circle cx="461" cy="618.8" r="6.3" stroke="#222" stroke-width="1.1" fill="none"/>
<text x="0" y="0" transform="translate(411.4,599.1) scale(0.92,1)" font-size="10.1" text-anchor="start" fill="#1a1a1a" stroke="#1a1a1a" stroke-width="0.45" font-family="Liberation Sans" font-weight="normal">G2</text>
<path d="M408,600.6 L432,600.6 L452,610" stroke="#2a2a2a" stroke-width="0.81" fill="none"/>
<path d="M479.4,605.5 H497.4 M488.4,596.5 V614.5" stroke="#1a1a1a" stroke-width="0.95"/>
<circle cx="488.4" cy="605.5" r="6.5" stroke="#0e0e0e" stroke-width="2.3" fill="#6e6e6e"/>
<circle cx="488.4" cy="605.5" r="3.9" stroke="#333" stroke-width="0.8" fill="#c8c8c8"/>
<path d="M483,605.5 H493.8 M488.4,600.1 V610.9" stroke="#222" stroke-width="0.9"/>
<path d="M479.4,630.5 H497.4 M488.4,621.5 V639.5" stroke="#1a1a1a" stroke-width="0.95"/>
<circle cx="488.4" cy="630.5" r="6.5" stroke="#0e0e0e" stroke-width="2.3" fill="#6e6e6e"/>
<circle cx="488.4" cy="630.5" r="3.9" stroke="#333" stroke-width="0.8" fill="#c8c8c8"/>
<path d="M483,630.5 H493.8 M488.4,625.1 V635.9" stroke="#222" stroke-width="0.9"/>
<path d="M499.4,605.5 H517.4 M508.4,596.5 V614.5" stroke="#1a1a1a" stroke-width="0.95"/>
<circle cx="508.4" cy="605.5" r="6.5" stroke="#0e0e0e" stroke-width="2.3" fill="#6e6e6e"/>
<circle cx="508.4" cy="605.5" r="3.9" stroke="#333" stroke-width="0.8" fill="#c8c8c8"/>
<path d="M503,605.5 H513.8 M508.4,600.1 V610.9" stroke="#222" stroke-width="0.9"/>
<path d="M499.4,630.5 H517.4 M508.4,621.5 V639.5" stroke="#1a1a1a" stroke-width="0.95"/>
<circle cx="508.4" cy="630.5" r="6.5" stroke="#0e0e0e" stroke-width="2.3" fill="#6e6e6e"/>
<circle cx="508.4" cy="630.5" r="3.9" stroke="#333" stroke-width="0.8" fill="#c8c8c8"/>
<path d="M503,630.5 H513.8 M508.4,625.1 V635.9" stroke="#222" stroke-width="0.9"/>
<path d="M519.4,605.5 H537.4 M528.4,596.5 V614.5" stroke="#1a1a1a" stroke-width="0.95"/>
<circle cx="528.4" cy="605.5" r="6.5" stroke="#0e0e0e" stroke-width="2.3" fill="#6e6e6e"/>
<circle cx="528.4" cy="605.5" r="3.9" stroke="#333" stroke-width="0.8" fill="#c8c8c8"/>
<path d="M523,605.5 H533.8 M528.4,600.1 V610.9" stroke="#222" stroke-width="0.9"/>
<path d="M519.4,630.5 H537.4 M528.4,621.5 V639.5" stroke="#1a1a1a" stroke-width="0.95"/>
<circle cx="528.4" cy="630.5" r="6.5" stroke="#0e0e0e" stroke-width="2.3" fill="#6e6e6e"/>
<circle cx="528.4" cy="630.5" r="3.9" stroke="#333" stroke-width="0.8" fill="#c8c8c8"/>
<path d="M523,630.5 H533.8 M528.4,625.1 V635.9" stroke="#222" stroke-width="0.9"/>
<path d="M539.4,605.5 H557.4 M548.4,596.5 V614.5" stroke="#1a1a1a" stroke-width="0.95"/>
<circle cx="548.4" cy="605.5" r="6.5" stroke="#0e0e0e" stroke-width="2.3" fill="#6e6e6e"/>
<circle cx="548.4" cy="605.5" r="3.9" stroke="#333" stroke-width="0.8" fill="#c8c8c8"/>
<path d="M543,605.5 H553.8 M548.4,600.1 V610.9" stroke="#222" stroke-width="0.9"/>
<path d="M539.4,630.5 H557.4 M548.4,621.5 V639.5" stroke="#1a1a1a" stroke-width="0.95"/>
<circle cx="548.4" cy="630.5" r="6.5" stroke="#0e0e0e" stroke-width="2.3" fill="#6e6e6e"/>
<circle cx="548.4" cy="630.5" r="3.9" stroke="#333" stroke-width="0.8" fill="#c8c8c8"/>
<path d="M543,630.5 H553.8 M548.4,625.1 V635.9" stroke="#222" stroke-width="0.9"/>
<path d="M559.4,605.5 H577.4 M568.4,596.5 V614.5" stroke="#1a1a1a" stroke-width="0.95"/>
<circle cx="568.4" cy="605.5" r="6.5" stroke="#0e0e0e" stroke-width="2.3" fill="#6e6e6e"/>
<circle cx="568.4" cy="605.5" r="3.9" stroke="#333" stroke-width="0.8" fill="#c8c8c8"/>
<path d="M563,605.5 H573.8 M568.4,600.1 V610.9" stroke="#222" stroke-width="0.9"/>
<path d="M559.4,630.5 H577.4 M568.4,621.5 V639.5" stroke="#1a1a1a" stroke-width="0.95"/>
<circle cx="568.4" cy="630.5" r="6.5" stroke="#0e0e0e" stroke-width="2.3" fill="#6e6e6e"/>
<circle cx="568.4" cy="630.5" r="3.9" stroke="#333" stroke-width="0.8" fill="#c8c8c8"/>
<path d="M563,630.5 H573.8 M568.4,625.1 V635.9" stroke="#222" stroke-width="0.9"/>
<path d="M579.4,605.5 H597.4 M588.4,596.5 V614.5" stroke="#1a1a1a" stroke-width="0.95"/>
<circle cx="588.4" cy="605.5" r="6.5" stroke="#0e0e0e" stroke-width="2.3" fill="#6e6e6e"/>
<circle cx="588.4" cy="605.5" r="3.9" stroke="#333" stroke-width="0.8" fill="#c8c8c8"/>
<path d="M583,605.5 H593.8 M588.4,600.1 V610.9" stroke="#222" stroke-width="0.9"/>
<path d="M579.4,630.5 H597.4 M588.4,621.5 V639.5" stroke="#1a1a1a" stroke-width="0.95"/>
<circle cx="588.4" cy="630.5" r="6.5" stroke="#0e0e0e" stroke-width="2.3" fill="#6e6e6e"/>
<circle cx="588.4" cy="630.5" r="3.9" stroke="#333" stroke-width="0.8" fill="#c8c8c8"/>
<path d="M583,630.5 H593.8 M588.4,625.1 V635.9" stroke="#222" stroke-width="0.9"/>
<text x="0" y="0" transform="translate(608.4,585.8) scale(0.92,1)" font-size="10.1" text-anchor="start" fill="#1a1a1a" stroke="#1a1a1a" stroke-width="0.45" font-family="Liberation Sans" font-weight="normal">12-G3/4</text>
<path d="M594,600 L608,588.2 L641,588.2" stroke="#2a2a2a" stroke-width="0.81" fill="none"/>
<circle cx="625.2" cy="620.2" r="3" stroke="#1e1e1e" stroke-width="1.04" fill="none"/>
<line x1="622.5" y1="621" x2="628" y2="619.5" stroke="#1e1e1e" stroke-width="0.91"/>
<rect x="615.6" y="624.2" width="6.4" height="4.8" stroke="#1e1e1e" stroke-width="1.04" fill="none"/>
<line x1="371.7" y1="676.5" x2="434.6" y2="676.5" stroke="#2a2a2a" stroke-width="1.08"/>
<line x1="390" y1="812.5" x2="434.6" y2="812.5" stroke="#2a2a2a" stroke-width="1.08"/>
<line x1="371.7" y1="834.9" x2="449" y2="834.9" stroke="#2a2a2a" stroke-width="1.08"/>
<rect x="434.6" y="676.5" width="182.3" height="136" stroke="#1e1e1e" stroke-width="1.56" fill="none"/>
<circle cx="524.6" cy="743.8" r="68.3" stroke="#1e1e1e" stroke-width="1.69" fill="none"/>
<circle cx="524.6" cy="743.8" r="65" fill="none" stroke="#222" stroke-width="1.15" stroke-dasharray="3.6,2.4"/>
<circle cx="589.6" cy="743.8" r="2.8" stroke="#1a1a1a" stroke-width="1.25" fill="#fff"/>
<path d="M586.8,743.8 H592.4 M589.6,741 V746.6" stroke="#333" stroke-width="0.55"/>
<circle cx="580.89" cy="711.3" r="2.8" stroke="#1a1a1a" stroke-width="1.25" fill="#fff"/>
<path d="M578.09,711.3 H583.69 M580.89,708.5 V714.1" stroke="#333" stroke-width="0.55"/>
<circle cx="557.1" cy="687.51" r="2.8" stroke="#1a1a1a" stroke-width="1.25" fill="#fff"/>
<path d="M554.3,687.51 H559.9 M557.1,684.71 V690.31" stroke="#333" stroke-width="0.55"/>
<circle cx="524.6" cy="678.8" r="2.8" stroke="#1a1a1a" stroke-width="1.25" fill="#fff"/>
<path d="M521.8,678.8 H527.4 M524.6,676 V681.6" stroke="#333" stroke-width="0.55"/>
<circle cx="492.1" cy="687.51" r="2.8" stroke="#1a1a1a" stroke-width="1.25" fill="#fff"/>
<path d="M489.3,687.51 H494.9 M492.1,684.71 V690.31" stroke="#333" stroke-width="0.55"/>
<circle cx="468.31" cy="711.3" r="2.8" stroke="#1a1a1a" stroke-width="1.25" fill="#fff"/>
<path d="M465.51,711.3 H471.11 M468.31,708.5 V714.1" stroke="#333" stroke-width="0.55"/>
<circle cx="459.6" cy="743.8" r="2.8" stroke="#1a1a1a" stroke-width="1.25" fill="#fff"/>
<path d="M456.8,743.8 H462.4 M459.6,741 V746.6" stroke="#333" stroke-width="0.55"/>
<circle cx="468.31" cy="776.3" r="2.8" stroke="#1a1a1a" stroke-width="1.25" fill="#fff"/>
<path d="M465.51,776.3 H471.11 M468.31,773.5 V779.1" stroke="#333" stroke-width="0.55"/>
<circle cx="492.1" cy="800.09" r="2.8" stroke="#1a1a1a" stroke-width="1.25" fill="#fff"/>
<path d="M489.3,800.09 H494.9 M492.1,797.29 V802.89" stroke="#333" stroke-width="0.55"/>
<circle cx="524.6" cy="808.8" r="2.8" stroke="#1a1a1a" stroke-width="1.25" fill="#fff"/>
<path d="M521.8,808.8 H527.4 M524.6,806 V811.6" stroke="#333" stroke-width="0.55"/>
<circle cx="557.1" cy="800.09" r="2.8" stroke="#1a1a1a" stroke-width="1.25" fill="#fff"/>
<path d="M554.3,800.09 H559.9 M557.1,797.29 V802.89" stroke="#333" stroke-width="0.55"/>
<circle cx="580.89" cy="776.3" r="2.8" stroke="#1a1a1a" stroke-width="1.25" fill="#fff"/>
<path d="M578.09,776.3 H583.69 M580.89,773.5 V779.1" stroke="#333" stroke-width="0.55"/>
<circle cx="586.76" cy="724.8" r="1.6" stroke="#1e1e1e" stroke-width="0.78" fill="#222"/>
<circle cx="461.53" cy="759.52" r="1.6" stroke="#1e1e1e" stroke-width="0.78" fill="#222"/>
<rect x="512" y="760.8" width="26.8" height="20" stroke="#1e1e1e" stroke-width="1.3" fill="none"/>
<path d="M434.6,676.5 H417 V679.12 M434.6,687.4 H417 V684.78" stroke="#1a1a1a" stroke-width="1.35" fill="none"/>
<path d="M417,679.12 H425.8 L430.02,681.95 L425.8,684.78 H417" stroke="#1a1a1a" stroke-width="1.35" fill="none"/>
<path d="M434.6,800.8 H417 V803.61 M434.6,812.5 H417 V809.69" stroke="#1a1a1a" stroke-width="1.35" fill="none"/>
<path d="M417,803.61 H425.8 L430.02,806.65 L425.8,809.69 H417" stroke="#1a1a1a" stroke-width="1.35" fill="none"/>
<path d="M616.9,676.5 H633.5 V679.12 M616.9,687.4 H633.5 V684.78" stroke="#1a1a1a" stroke-width="1.35" fill="none"/>
<path d="M633.5,679.12 H625.2 L621.22,681.95 L625.2,684.78 H633.5" stroke="#1a1a1a" stroke-width="1.35" fill="none"/>
<path d="M616.9,800.8 H633.5 V803.63 M616.9,812.6 H633.5 V809.77" stroke="#1a1a1a" stroke-width="1.35" fill="none"/>
<path d="M633.5,803.63 H625.2 L621.22,806.7 L625.2,809.77 H633.5" stroke="#1a1a1a" stroke-width="1.35" fill="none"/>
<line x1="406.6" y1="681.9" x2="429" y2="681.9" stroke="#2a2a2a" stroke-width="1.08"/>
<path d="M429.5,681.9 L425.3,680.5 L425.3,683.3 Z" stroke="#1e1e1e" stroke-width="0.39" fill="#1e1e1e"/>
<line x1="406.6" y1="806.6" x2="429" y2="806.6" stroke="#2a2a2a" stroke-width="1.08"/>
<path d="M429.5,806.6 L425.3,805.2 L425.3,808 Z" stroke="#1e1e1e" stroke-width="0.39" fill="#1e1e1e"/>
<line x1="378.1" y1="676.5" x2="378.1" y2="834.9" stroke="#555" stroke-width="0.85"/>
<path d="M378.1,676.5 L376.5,681.5 L379.7,681.5 Z" stroke="#1e1e1e" stroke-width="0.39" fill="#1e1e1e"/>
<path d="M378.1,834.9 L376.5,829.9 L379.7,829.9 Z" stroke="#1e1e1e" stroke-width="0.39" fill="#1e1e1e"/>
<line x1="395.7" y1="676.5" x2="395.7" y2="812.5" stroke="#555" stroke-width="0.85"/>
<path d="M395.7,676.5 L394.1,681.5 L397.3,681.5 Z" stroke="#1e1e1e" stroke-width="0.39" fill="#1e1e1e"/>
<path d="M395.7,812.5 L394.1,807.5 L397.3,807.5 Z" stroke="#1e1e1e" stroke-width="0.39" fill="#1e1e1e"/>
<line x1="412.5" y1="681.9" x2="412.5" y2="806.6" stroke="#555" stroke-width="0.85"/>
<path d="M412.5,681.9 L410.9,686.9 L414.1,686.9 Z" stroke="#1e1e1e" stroke-width="0.39" fill="#1e1e1e"/>
<path d="M412.5,806.6 L410.9,801.6 L414.1,801.6 Z" stroke="#1e1e1e" stroke-width="0.39" fill="#1e1e1e"/>
<text x="0" y="0" transform="translate(372.2,757) rotate(-90) scale(0.92,1)" font-size="10.1" text-anchor="middle" dominant-baseline="central" fill="#1a1a1a" stroke="#1a1a1a" stroke-width="0.45" font-family="Liberation Sans" font-weight="normal">410</text>
<text x="0" y="0" transform="translate(390.3,741.5) rotate(-90) scale(0.92,1)" font-size="10.1" text-anchor="middle" dominant-baseline="central" fill="#1a1a1a" stroke="#1a1a1a" stroke-width="0.45" font-family="Liberation Sans" font-weight="normal">350</text>
<text x="0" y="0" transform="translate(406.9,743.4) rotate(-90) scale(0.92,1)" font-size="10.1" text-anchor="middle" dominant-baseline="central" fill="#1a1a1a" stroke="#1a1a1a" stroke-width="0.45" font-family="Liberation Sans" font-weight="normal">320</text>
<line x1="628" y1="679" x2="652" y2="679" stroke="#1e1e1e" stroke-width="1.1"/>
<line x1="628" y1="685" x2="652" y2="685" stroke="#1e1e1e" stroke-width="1.1"/>
<line x1="647.2" y1="671" x2="647.2" y2="718" stroke="#2a2a2a" stroke-width="0.94"/>
<path d="M647.2,679 L646,675.5 L648.4,675.5 Z" stroke="#1e1e1e" stroke-width="0.39" fill="#1e1e1e"/>
<path d="M647.2,685 L646,688.5 L648.4,688.5 Z" stroke="#1e1e1e" stroke-width="0.39" fill="#1e1e1e"/>
<text x="0" y="0" transform="translate(640.5,706) rotate(-90) scale(0.92,1)" font-size="10.1" text-anchor="middle" dominant-baseline="central" fill="#1a1a1a" stroke="#1a1a1a" stroke-width="0.45" font-family="Liberation Sans" font-weight="normal">12.5</text>
<path d="M448.8,812.5 V828 H476.5 V812.5" stroke="#1e1e1e" stroke-width="1.23" fill="none"/>
<rect x="448.2" y="828.6" width="28.9" height="6.9" rx="3.75" stroke="#1a1a1a" stroke-width="1.3" fill="#fff"/>
<line x1="452.26" y1="828.8" x2="452.26" y2="835.3" stroke="#222" stroke-width="1.1"/>
<line x1="455.73" y1="828.8" x2="455.73" y2="835.3" stroke="#222" stroke-width="1.1"/>
<line x1="459.19" y1="828.8" x2="459.19" y2="835.3" stroke="#222" stroke-width="1.1"/>
<line x1="462.65" y1="828.8" x2="462.65" y2="835.3" stroke="#222" stroke-width="1.1"/>
<line x1="466.11" y1="828.8" x2="466.11" y2="835.3" stroke="#222" stroke-width="1.1"/>
<line x1="469.57" y1="828.8" x2="469.57" y2="835.3" stroke="#222" stroke-width="1.1"/>
<line x1="473.04" y1="828.8" x2="473.04" y2="835.3" stroke="#222" stroke-width="1.1"/>
<path d="M482.9,812.5 V825 H497.9 V812.5" stroke="#1e1e1e" stroke-width="1.23" fill="none"/>
<rect x="482.3" y="825.6" width="16.2" height="5.6" rx="3.1" stroke="#1a1a1a" stroke-width="1.3" fill="#fff"/>
<line x1="486.65" y1="825.8" x2="486.65" y2="831" stroke="#222" stroke-width="1.1"/>
<line x1="490.4" y1="825.8" x2="490.4" y2="831" stroke="#222" stroke-width="1.1"/>
<line x1="494.15" y1="825.8" x2="494.15" y2="831" stroke="#222" stroke-width="1.1"/>
<path d="M503.2,812.5 V825 H518.2 V812.5" stroke="#1e1e1e" stroke-width="1.23" fill="none"/>
<rect x="502.6" y="825.6" width="16.2" height="5.6" rx="3.1" stroke="#1a1a1a" stroke-width="1.3" fill="#fff"/>
<line x1="506.95" y1="825.8" x2="506.95" y2="831" stroke="#222" stroke-width="1.1"/>
<line x1="510.7" y1="825.8" x2="510.7" y2="831" stroke="#222" stroke-width="1.1"/>
<line x1="514.45" y1="825.8" x2="514.45" y2="831" stroke="#222" stroke-width="1.1"/>
<path d="M522.8,812.5 V825 H537.8 V812.5" stroke="#1e1e1e" stroke-width="1.23" fill="none"/>
<rect x="522.2" y="825.6" width="16.2" height="5.6" rx="3.1" stroke="#1a1a1a" stroke-width="1.3" fill="#fff"/>
<line x1="526.55" y1="825.8" x2="526.55" y2="831" stroke="#222" stroke-width="1.1"/>
<line x1="530.3" y1="825.8" x2="530.3" y2="831" stroke="#222" stroke-width="1.1"/>
<line x1="534.05" y1="825.8" x2="534.05" y2="831" stroke="#222" stroke-width="1.1"/>
<path d="M542.4,812.5 V825 H557.4 V812.5" stroke="#1e1e1e" stroke-width="1.23" fill="none"/>
<rect x="541.8" y="825.6" width="16.2" height="5.6" rx="3.1" stroke="#1a1a1a" stroke-width="1.3" fill="#fff"/>
<line x1="546.15" y1="825.8" x2="546.15" y2="831" stroke="#222" stroke-width="1.1"/>
<line x1="549.9" y1="825.8" x2="549.9" y2="831" stroke="#222" stroke-width="1.1"/>
<line x1="553.65" y1="825.8" x2="553.65" y2="831" stroke="#222" stroke-width="1.1"/>
<path d="M562.6,812.5 V825 H577.6 V812.5" stroke="#1e1e1e" stroke-width="1.23" fill="none"/>
<rect x="562" y="825.6" width="16.2" height="5.6" rx="3.1" stroke="#1a1a1a" stroke-width="1.3" fill="#fff"/>
<line x1="566.35" y1="825.8" x2="566.35" y2="831" stroke="#222" stroke-width="1.1"/>
<line x1="570.1" y1="825.8" x2="570.1" y2="831" stroke="#222" stroke-width="1.1"/>
<line x1="573.85" y1="825.8" x2="573.85" y2="831" stroke="#222" stroke-width="1.1"/>
<path d="M582.5,812.5 V825 H597.5 V812.5" stroke="#1e1e1e" stroke-width="1.23" fill="none"/>
<rect x="581.9" y="825.6" width="16.2" height="5.6" rx="3.1" stroke="#1a1a1a" stroke-width="1.3" fill="#fff"/>
<line x1="586.25" y1="825.8" x2="586.25" y2="831" stroke="#222" stroke-width="1.1"/>
<line x1="590" y1="825.8" x2="590" y2="831" stroke="#222" stroke-width="1.1"/>
<line x1="593.75" y1="825.8" x2="593.75" y2="831" stroke="#222" stroke-width="1.1"/>
<rect x="618" y="784.6" width="4.7" height="5" stroke="#1e1e1e" stroke-width="1.04" fill="none"/>
<line x1="434.6" y1="812.5" x2="434.6" y2="855.5" stroke="#2a2a2a" stroke-width="1.08"/>
<line x1="616.9" y1="812.6" x2="616.9" y2="855.5" stroke="#2a2a2a" stroke-width="1.08"/>
<line x1="425.3" y1="806.6" x2="425.3" y2="871.7" stroke="#2a2a2a" stroke-width="1.08"/>
<line x1="625.5" y1="806.6" x2="625.5" y2="871.7" stroke="#2a2a2a" stroke-width="1.08"/>
<line x1="417.6" y1="800.8" x2="417.6" y2="887.3" stroke="#2a2a2a" stroke-width="1.08"/>
<line x1="633.5" y1="812.6" x2="633.5" y2="887.3" stroke="#2a2a2a" stroke-width="1.08"/>
<line x1="434.6" y1="852.3" x2="617" y2="852.3" stroke="#555" stroke-width="0.85"/>
<path d="M434.6,852.3 L439.6,850.7 L439.6,853.9 Z" stroke="#1e1e1e" stroke-width="0.39" fill="#1e1e1e"/>
<path d="M617,852.3 L612,850.7 L612,853.9 Z" stroke="#1e1e1e" stroke-width="0.39" fill="#1e1e1e"/>
<line x1="425.3" y1="867.7" x2="625.5" y2="867.7" stroke="#555" stroke-width="0.85"/>
<path d="M425.3,867.7 L430.3,866.1 L430.3,869.3 Z" stroke="#1e1e1e" stroke-width="0.39" fill="#1e1e1e"/>
<path d="M625.5,867.7 L620.5,866.1 L620.5,869.3 Z" stroke="#1e1e1e" stroke-width="0.39" fill="#1e1e1e"/>
<line x1="417.6" y1="884" x2="633.5" y2="884" stroke="#555" stroke-width="0.85"/>
<path d="M417.6,884 L422.6,882.4 L422.6,885.6 Z" stroke="#1e1e1e" stroke-width="0.39" fill="#1e1e1e"/>
<path d="M633.5,884 L628.5,882.4 L628.5,885.6 Z" stroke="#1e1e1e" stroke-width="0.39" fill="#1e1e1e"/>
<text x="0" y="0" transform="translate(526,850.6) scale(0.92,1)" font-size="10.1" text-anchor="middle" fill="#1a1a1a" stroke="#1a1a1a" stroke-width="0.45" font-family="Liberation Sans" font-weight="normal">460</text>
<text x="0" y="0" transform="translate(526,865.2) scale(0.92,1)" font-size="10.1" text-anchor="middle" fill="#1a1a1a" stroke="#1a1a1a" stroke-width="0.45" font-family="Liberation Sans" font-weight="normal">500</text>
<text x="0" y="0" transform="translate(526,881) scale(0.92,1)" font-size="10.1" text-anchor="middle" fill="#1a1a1a" stroke="#1a1a1a" stroke-width="0.45" font-family="Liberation Sans" font-weight="normal">540</text>
<text x="477.2" y="910.4" font-size="9.4" fill="#1a1a1a" stroke="#1a1a1a" stroke-width="0.35" font-family="Liberation Sans"><tspan>JBC-21×1(G2)×12(G</tspan><tspan font-size="6.6" dy="-3.4" dx="1.5">3</tspan><tspan font-size="6.6" dx="-3.97" dy="6.0">4</tspan><tspan dy="-2.6" dx="1.6">)</tspan></text>
</svg>
</body></html>
